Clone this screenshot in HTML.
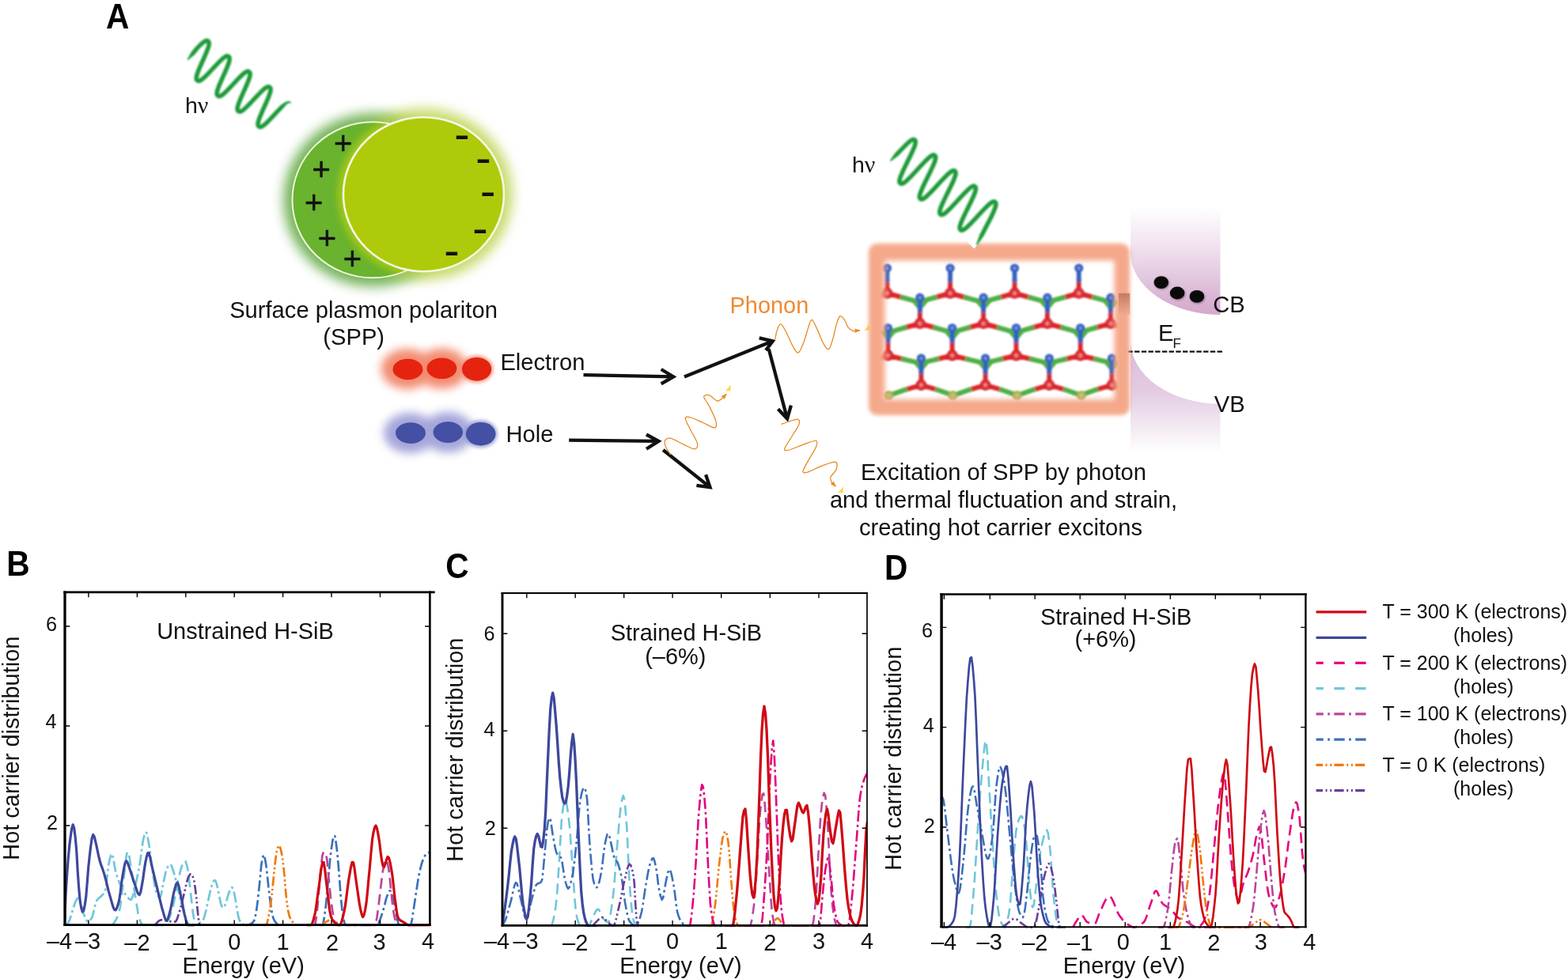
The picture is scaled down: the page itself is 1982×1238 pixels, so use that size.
<!DOCTYPE html>
<html lang="en"><head><meta charset="utf-8"><title>Hot carrier generation in H-SiB</title>
<style>
html,body{margin:0;padding:0;background:#fff;}
body{width:1982px;height:1238px;overflow:hidden;}
svg{display:block;font-family:"Liberation Sans", sans-serif;}
</style></head>
<body>
<svg width="1982" height="1238" viewBox="0 0 1982 1238">
<defs>

<filter id="blurS" x="-20%" y="-20%" width="140%" height="140%"><feGaussianBlur stdDeviation="0.85"/></filter>
<filter id="blurL" x="-10%" y="-10%" width="120%" height="120%"><feGaussianBlur stdDeviation="1.25"/></filter>
<filter id="glow7" x="-30%" y="-30%" width="160%" height="160%"><feGaussianBlur stdDeviation="7.5"/></filter>
<filter id="glow6" x="-40%" y="-60%" width="180%" height="220%"><feGaussianBlur stdDeviation="6"/></filter>
<filter id="glow5" x="-40%" y="-60%" width="180%" height="220%"><feGaussianBlur stdDeviation="5"/></filter>
<filter id="glow2" x="-40%" y="-60%" width="180%" height="220%"><feGaussianBlur stdDeviation="2"/></filter>
<filter id="frameblur" x="-10%" y="-10%" width="120%" height="120%"><feGaussianBlur stdDeviation="2.4"/></filter>
<linearGradient id="gback" x1="0" y1="0" x2="1" y2="0">
  <stop offset="0" stop-color="#68b22e"/><stop offset="0.22" stop-color="#6ab42d"/><stop offset="0.36" stop-color="#8fc226"/><stop offset="1" stop-color="#a6c81c"/>
</linearGradient>
<linearGradient id="gcb" x1="0" y1="0" x2="0" y2="1">
  <stop offset="0" stop-color="#ffffff"/><stop offset="0.3" stop-color="#f3e7f2"/><stop offset="0.6" stop-color="#e5cde2"/><stop offset="0.85" stop-color="#dab4d4"/><stop offset="1" stop-color="#d5a8cc"/>
</linearGradient>
<linearGradient id="gvb" x1="0" y1="0" x2="0" y2="1">
  <stop offset="0" stop-color="#d9b9d8"/><stop offset="0.45" stop-color="#e3cbe2"/><stop offset="1" stop-color="#ffffff"/>
</linearGradient>
<linearGradient id="gnotch" x1="0" y1="0" x2="0" y2="1">
  <stop offset="0" stop-color="#b9705a"/><stop offset="1" stop-color="#f2a88c"/>
</linearGradient>
<radialGradient id="gred" cx="0.5" cy="0.5" r="0.5"><stop offset="0" stop-color="#f6b5b5"/><stop offset="0.45" stop-color="#e03a3e"/><stop offset="1" stop-color="#d41f26"/></radialGradient>
<radialGradient id="gblue" cx="0.5" cy="0.5" r="0.5"><stop offset="0" stop-color="#8fb0ea"/><stop offset="0.5" stop-color="#3f68c8"/><stop offset="1" stop-color="#2d55b8"/></radialGradient>
<radialGradient id="golive" cx="0.5" cy="0.5" r="0.5"><stop offset="0" stop-color="#cfc98a"/><stop offset="1" stop-color="#9aa83c"/></radialGradient>

<clipPath id="clipback"><ellipse cx="471" cy="252.8" rx="100.5" ry="97.5"/></clipPath>
<clipPath id="cliplat"><rect x="1113" y="326" width="300" height="183"/></clipPath>
<mask id="framemask" maskUnits="userSpaceOnUse" x="1080" y="290" width="370" height="255"><rect x="1098" y="308" width="330" height="217" rx="11" ry="11" fill="#fff" filter="url(#fb_out)"/><rect x="1118.5" y="329.5" width="290" height="175.5" rx="2" fill="#000" filter="url(#fb_in)"/></mask>
<filter id="fb_out" x="-10%" y="-10%" width="120%" height="120%"><feGaussianBlur stdDeviation="2.6"/></filter><filter id="fb_in" x="-10%" y="-10%" width="120%" height="120%"><feGaussianBlur stdDeviation="3.4"/></filter>
<clipPath id="clipB"><rect x="82" y="748.9" width="461.4" height="422.80000000000007"/></clipPath>
<clipPath id="clipC"><rect x="635.0" y="750.0" width="461.0" height="422.4000000000001"/></clipPath>
<clipPath id="clipD"><rect x="1190.1" y="751.5" width="460.3000000000002" height="422.70000000000005"/></clipPath>
</defs>
<rect width="1982" height="1238" fill="#fff"/>
<text transform="translate(134.1 35.7) scale(0.905 1)" font-size="44.9" font-weight="bold" fill="#000">A</text>
<path d="M237.7 75.8L239.2 74.6L240.7 73.3L242.3 72.0L243.8 70.7L245.3 69.4L246.7 68.0L247.9 66.5L249.1 65.0L250.4 63.5L251.5 62.0L253.3 60.3L254.9 58.6L256.4 57.3L257.8 56.1L258.9 55.2L259.8 54.6L260.5 54.2L261.0 54.0L261.3 54.0L261.4 54.0L261.5 54.0L261.5 54.0L261.5 54.0L261.5 54.0L261.6 54.1L261.6 54.2L261.7 54.4L261.7 54.8L261.7 55.4L261.6 56.3L261.4 57.4L261.0 58.9L260.4 60.6L259.7 62.5L258.8 64.7L257.8 67.2L256.7 69.8L255.5 72.5L254.2 75.3L252.9 78.1L251.7 80.9L250.5 83.6L249.4 86.2L248.4 88.6L247.6 90.8L246.9 92.8L246.4 94.5L246.0 96.1L245.8 97.5L245.7 98.8L245.8 100.0L246.0 101.1L246.4 102.0L247.0 102.9L247.7 103.6L248.4 104.1L249.3 104.5L250.3 104.8L251.4 104.8L252.5 104.7L253.7 104.3L254.8 103.7L256.0 103.0L257.3 102.0L258.7 100.8L260.3 99.4L262.0 97.8L263.8 96.0L265.7 94.0L267.7 91.8L269.8 89.6L271.9 87.4L273.9 85.2L275.9 83.1L277.8 81.1L279.6 79.3L281.2 77.8L282.7 76.4L283.9 75.3L285.0 74.5L285.9 73.9L286.6 73.6L287.0 73.4L287.3 73.4L287.4 73.4L287.4 73.4L287.4 73.4L287.5 73.4L287.5 73.5L287.5 73.5L287.6 73.6L287.7 73.9L287.7 74.3L287.7 74.9L287.5 75.9L287.3 77.1L286.8 78.6L286.2 80.3L285.5 82.4L284.6 84.6L283.5 87.1L282.4 89.7L281.2 92.5L279.9 95.3L278.6 98.1L277.4 100.9L276.2 103.6L275.1 106.1L274.2 108.5L273.4 110.6L272.7 112.5L272.2 114.3L271.9 115.8L271.7 117.2L271.6 118.5L271.8 119.6L272.0 120.7L272.5 121.6L273.1 122.4L273.7 123.1L274.5 123.6L275.5 124.0L276.5 124.2L277.6 124.2L278.7 124.0L279.8 123.6L281.0 123.0L282.2 122.2L283.5 121.2L285.0 120.0L286.6 118.5L288.3 116.8L290.1 115.0L292.1 113.0L294.1 110.8L296.1 108.6L298.2 106.4L300.3 104.2L302.2 102.1L304.1 100.2L305.9 98.4L307.5 96.9L308.9 95.6L310.1 94.6L311.2 93.8L312.0 93.3L312.6 92.9L313.0 92.8L313.2 92.8L313.3 92.8L313.3 92.8L313.4 92.8L313.4 92.8L313.4 92.9L313.5 92.9L313.5 93.1L313.6 93.3L313.6 93.8L313.6 94.5L313.4 95.5L313.1 96.8L312.7 98.3L312.0 100.1L311.2 102.2L310.3 104.5L309.2 107.0L308.1 109.7L306.8 112.4L305.6 115.3L304.3 118.1L303.1 120.8L301.9 123.5L300.9 126.0L300.0 128.3L299.2 130.4L298.6 132.3L298.1 134.0L297.8 135.5L297.6 136.9L297.6 138.1L297.7 139.2L298.1 140.3L298.5 141.2L299.1 142.0L299.8 142.6L300.7 143.1L301.6 143.5L302.6 143.7L303.7 143.6L304.9 143.4L306.0 142.9L307.2 142.3L308.4 141.4L309.8 140.4L311.2 139.1L312.8 137.6L314.6 135.9L316.4 134.0L318.4 132.0L320.4 129.8L322.5 127.6L324.6 125.4L326.6 123.2L328.6 121.1L330.4 119.2L332.1 117.5L333.7 116.0L335.1 114.8L336.3 113.8L337.3 113.1L338.1 112.6L338.7 112.3L339.0 112.2L339.2 112.2L339.3 112.2L339.3 112.2L339.3 112.2L339.4 112.2L339.4 112.3L339.4 112.4L339.5 112.5L339.6 112.8L339.6 113.3L339.5 114.1L339.3 115.1L339.0 116.5L338.5 118.1L337.8 119.9L337.0 122.1L336.1 124.4L335.0 126.9L333.8 129.6L332.5 132.4L331.3 135.2L330.0 138.0L328.8 140.8L327.7 143.4L326.6 145.9L325.7 148.2L325.0 150.2L324.4 152.1L324.0 153.7L323.7 155.2L323.5 156.5L323.6 157.7L323.7 158.9L324.1 159.9L324.6 160.8L325.2 161.5L325.9 162.1L326.8 162.6L327.7 162.9L328.8 163.1L329.9 163.0L331.0 162.7L332.2 162.2L333.4 161.5L334.6 160.6L336.0 159.5L337.5 158.2L339.1 156.7L340.9 154.9L342.8 153.0L344.7 150.9L346.8 148.8L348.9 146.5L350.9 144.3L352.9 142.2L354.9 140.1L356.7 138.3L358.3 136.5L359.6 134.8L360.8 133.4L361.9 132.3L362.8 131.4L363.6 130.8L364.2 130.4L364.8 130.1L365.2 130.0L365.6 130.0L365.9 130.0L366.3 130.1L366.6 130.3L367.0 130.6L367.8 129.9L367.5 129.5L367.1 129.0L366.6 128.6L365.9 128.4L365.2 128.2L364.4 128.2L363.5 128.3L362.5 128.6L361.3 129.1L360.0 129.8L358.5 130.7L356.9 131.8L355.0 133.1L353.2 134.7L351.3 136.7L349.3 138.7L347.3 140.9L345.2 143.1L343.1 145.3L341.1 147.5L339.2 149.5L337.3 151.4L335.7 153.1L334.1 154.5L332.8 155.7L331.6 156.6L330.7 157.3L329.9 157.7L329.4 158.0L329.0 158.1L328.9 158.1L328.8 158.1L328.8 158.1L328.8 158.0L328.7 158.0L328.7 158.0L328.7 157.9L328.6 157.7L328.5 157.4L328.5 156.8L328.6 156.0L328.8 154.9L329.2 153.5L329.7 151.8L330.4 149.9L331.3 147.8L332.3 145.4L333.4 142.8L334.6 140.1L335.8 137.3L337.1 134.5L338.4 131.7L339.5 128.9L340.7 126.3L341.7 123.9L342.5 121.7L343.2 119.6L343.8 117.8L344.2 116.2L344.5 114.8L344.6 113.5L344.5 112.3L344.3 111.2L343.9 110.2L343.4 109.3L342.8 108.6L342.0 108.0L341.1 107.6L340.2 107.3L339.1 107.2L338.0 107.3L336.9 107.7L335.7 108.2L334.5 108.9L333.2 109.8L331.8 111.0L330.3 112.3L328.6 113.9L326.9 115.7L325.0 117.7L323.0 119.8L320.9 121.9L318.8 124.2L316.8 126.4L314.8 128.5L312.9 130.5L311.0 132.4L309.4 134.0L307.9 135.4L306.6 136.5L305.5 137.4L304.5 138.0L303.8 138.4L303.3 138.6L303.0 138.7L302.9 138.7L302.9 138.7L302.9 138.6L302.8 138.6L302.8 138.6L302.8 138.5L302.7 138.4L302.6 138.2L302.6 137.9L302.6 137.2L302.7 136.4L303.0 135.2L303.4 133.8L303.9 132.1L304.6 130.1L305.5 127.9L306.5 125.5L307.7 122.8L308.9 120.1L310.1 117.3L311.4 114.5L312.7 111.7L313.8 109.0L314.9 106.4L315.9 104.0L316.7 101.8L317.4 99.9L318.0 98.1L318.3 96.5L318.6 95.1L318.6 93.8L318.6 92.6L318.3 91.6L317.9 90.6L317.4 89.8L316.7 89.1L315.9 88.5L315.0 88.1L314.0 87.8L312.9 87.8L311.8 88.0L310.7 88.3L309.5 88.9L308.3 89.7L307.0 90.6L305.6 91.8L304.0 93.2L302.4 94.8L300.5 96.7L298.6 98.7L296.6 100.8L294.6 103.0L292.5 105.2L290.4 107.4L288.4 109.5L286.5 111.5L284.8 113.3L283.1 114.9L281.7 116.2L280.4 117.3L279.3 118.1L278.4 118.7L277.8 119.0L277.3 119.2L277.1 119.3L277.0 119.2L276.9 119.2L276.9 119.2L276.9 119.2L276.8 119.2L276.8 119.1L276.7 119.0L276.7 118.8L276.6 118.3L276.7 117.7L276.8 116.7L277.1 115.5L277.5 114.0L278.1 112.3L278.9 110.3L279.8 108.0L280.8 105.5L282.0 102.9L283.2 100.2L284.4 97.3L285.7 94.5L287.0 91.7L288.1 89.1L289.2 86.5L290.1 84.2L290.9 82.0L291.6 80.1L292.1 78.4L292.4 76.8L292.6 75.4L292.7 74.2L292.6 73.0L292.3 72.0L291.9 71.0L291.3 70.2L290.6 69.5L289.8 69.0L288.9 68.6L287.9 68.4L286.8 68.4L285.6 68.6L284.5 69.0L283.4 69.6L282.1 70.4L280.8 71.4L279.4 72.7L277.8 74.1L276.1 75.8L274.2 77.6L272.3 79.7L270.3 81.8L268.2 84.0L266.1 86.2L264.1 88.4L262.1 90.5L260.2 92.5L258.5 94.2L256.9 95.8L255.5 97.0L254.2 98.1L253.2 98.8L252.3 99.4L251.7 99.7L251.3 99.8L251.1 99.8L251.0 99.8L251.0 99.8L251.0 99.8L250.9 99.8L250.9 99.8L250.8 99.7L250.8 99.6L250.7 99.3L250.7 98.8L250.7 98.1L250.9 97.1L251.2 95.8L251.7 94.3L252.3 92.5L253.1 90.4L254.0 88.1L255.1 85.6L256.3 83.0L257.5 80.2L258.8 77.4L260.0 74.5L261.2 71.8L262.4 69.1L263.4 66.6L264.4 64.3L265.1 62.2L265.8 60.3L266.2 58.6L266.6 57.1L266.7 55.8L266.7 54.5L266.6 53.4L266.3 52.3L265.8 51.4L265.2 50.6L264.5 50.0L263.7 49.5L262.7 49.1L261.7 49.0L260.6 49.0L259.5 49.3L258.3 49.7L257.2 50.4L255.9 51.2L254.6 52.3L253.1 53.5L251.5 55.0L249.8 56.7L247.8 58.7L246.5 60.3L245.3 61.8L244.0 63.3L242.8 64.8L241.7 66.5L240.7 68.2L239.8 69.9L238.8 71.7L237.8 73.4L236.9 75.2Z" fill="#1d9a38" stroke="#1d9a38" stroke-width="0.6" stroke-linejoin="round" filter="url(#blurS)"/>
<text x="234.0" y="142.6" font-size="28.5" fill="#111">h<tspan font-family="&quot;Liberation Serif&quot;, &quot;DejaVu Serif&quot;, serif" font-size="30">ν</tspan></text>
<text x="1077.0" y="217.6" font-size="28.5" fill="#111">h<tspan font-family="&quot;Liberation Serif&quot;, &quot;DejaVu Serif&quot;, serif" font-size="30">ν</tspan></text>
<ellipse cx="471" cy="252.8" rx="112.5" ry="109.5" fill="#4f9f2e" opacity="0.8" filter="url(#glow7)"/>
<ellipse cx="535.5" cy="245.7" rx="112.5" ry="108.5" fill="#b9d24a" opacity="0.8" filter="url(#glow7)"/>
<ellipse cx="471" cy="252.8" rx="101.5" ry="98.5" fill="#69b32e" stroke="#eef5dc" stroke-width="2"/>
<g clip-path="url(#clipback)"><ellipse cx="535.5" cy="245.7" rx="108.5" ry="104.5" fill="#a8cb14" opacity="0.95" filter="url(#glow5)"/></g>
<ellipse cx="535.5" cy="245.7" rx="101.5" ry="97.5" fill="#afca0b" stroke="#f4f8e4" stroke-width="2.6"/>
<text x="433.6" y="195.2" font-size="40.00" text-anchor="middle" font-weight="normal" fill="#111" stroke="#111" stroke-width="0.5">+</text>
<text x="406.3" y="228.1" font-size="40.00" text-anchor="middle" font-weight="normal" fill="#111" stroke="#111" stroke-width="0.5">+</text>
<text x="396.6" y="269.9" font-size="40.00" text-anchor="middle" font-weight="normal" fill="#111" stroke="#111" stroke-width="0.5">+</text>
<text x="413.4" y="315.0" font-size="40.00" text-anchor="middle" font-weight="normal" fill="#111" stroke="#111" stroke-width="0.5">+</text>
<text x="445.5" y="340.6" font-size="40.00" text-anchor="middle" font-weight="normal" fill="#111" stroke="#111" stroke-width="0.5">+</text>
<text x="584.0" y="180.7" font-size="25.00" text-anchor="middle" font-weight="bold" fill="#111" stroke="#111" stroke-width="2.0">–</text>
<text x="611.0" y="210.6" font-size="25.00" text-anchor="middle" font-weight="bold" fill="#111" stroke="#111" stroke-width="2.0">–</text>
<text x="616.8" y="252.8" font-size="25.00" text-anchor="middle" font-weight="bold" fill="#111" stroke="#111" stroke-width="2.0">–</text>
<text x="607.0" y="299.9" font-size="25.00" text-anchor="middle" font-weight="bold" fill="#111" stroke="#111" stroke-width="2.0">–</text>
<text x="571.0" y="327.8" font-size="25.00" text-anchor="middle" font-weight="bold" fill="#111" stroke="#111" stroke-width="2.0">–</text>
<text x="459.5" y="402.0" font-size="29.17" text-anchor="middle" font-weight="normal" fill="#111" >Surface plasmon polariton</text>
<text x="447.2" y="436.4" font-size="29.17" text-anchor="middle" font-weight="normal" fill="#111" >(SPP)</text>
<g filter="url(#glow6)" opacity="0.8"><ellipse cx="514.5" cy="466.5" rx="33" ry="25.5" fill="#f0704f"/><ellipse cx="558.4" cy="466" rx="33" ry="25.5" fill="#f0704f"/></g>
<ellipse cx="602.6" cy="466.8" rx="21" ry="17.5" fill="#f28b72" opacity="0.8" filter="url(#glow2)"/>
<ellipse cx="515.5" cy="467" rx="19" ry="13.2" fill="#e5240f"/>
<ellipse cx="558.4" cy="465.8" rx="19" ry="13.3" fill="#e5240f"/>
<ellipse cx="602.6" cy="466.8" rx="18.6" ry="14.9" fill="#e5240f"/>
<g filter="url(#glow6)" opacity="0.8"><ellipse cx="518" cy="547.6" rx="33" ry="25.5" fill="#8e8fd0"/><ellipse cx="566" cy="546.6" rx="33" ry="25.5" fill="#8e8fd0"/></g>
<ellipse cx="607.7" cy="548.7" rx="21" ry="17.5" fill="#8f92d0" opacity="0.8" filter="url(#glow2)"/>
<ellipse cx="519" cy="547.6" rx="19" ry="13.3" fill="#4350a3"/>
<ellipse cx="566.3" cy="546.6" rx="18.8" ry="13.3" fill="#4350a3"/>
<ellipse cx="607.7" cy="548.7" rx="18.8" ry="14.8" fill="#4350a3"/>
<text x="632.4" y="467.6" font-size="29.17" text-anchor="start" font-weight="normal" fill="#111" >Electron</text>
<text x="639.4" y="559.4" font-size="29.17" text-anchor="start" font-weight="normal" fill="#111" >Hole</text>
<path d="M737.5 474.1L851.2 476.4M835.7 467.0L851.2 476.4L835.7 485.4" fill="none" stroke="#111" stroke-width="4.3" stroke-linejoin="miter" stroke-miterlimit="6" stroke-linecap="butt"/>
<path d="M865.0 476.5L976.8 431.3M959.7 427.3L976.8 431.3L968.0 443.0" fill="none" stroke="#111" stroke-width="4.3" stroke-linejoin="miter" stroke-miterlimit="6" stroke-linecap="butt"/>
<path d="M971.7 441.3L995.1 529.5M983.5 517.3L995.1 529.5L999.9 512.7" fill="none" stroke="#111" stroke-width="4.3" stroke-linejoin="miter" stroke-miterlimit="6" stroke-linecap="butt"/>
<path d="M719.2 556.6L832.5 557.9M817.0 549.5L832.5 557.9L817.0 567.8" fill="none" stroke="#111" stroke-width="4.3" stroke-linejoin="miter" stroke-miterlimit="6" stroke-linecap="butt"/>
<path d="M838.2 569.0L897.5 616.1M880.4 613.8L897.5 616.1L892.1 600.2" fill="none" stroke="#111" stroke-width="4.3" stroke-linejoin="miter" stroke-miterlimit="6" stroke-linecap="butt"/>
<path d="M979.9 428.5C980.2 426.7 981.0 421.0 982.2 417.9C983.4 414.8 984.9 409.3 986.9 409.7C988.8 410.1 991.4 415.6 993.9 420.3C996.4 424.9 999.6 433.5 1002.1 437.8C1004.6 442.1 1006.8 447.0 1009.1 446.0C1011.5 445.0 1014.1 437.0 1016.2 432.0C1018.2 426.9 1019.7 420.2 1021.3 415.6C1023.0 411.0 1024.1 404.3 1026.0 404.3C1027.9 404.3 1030.1 410.6 1032.6 415.6C1035.0 420.6 1038.3 429.9 1040.7 434.3C1043.2 438.7 1045.4 442.6 1047.3 441.8C1049.3 441.0 1050.8 434.8 1052.5 429.6C1054.1 424.5 1055.6 415.9 1057.1 410.9C1058.7 405.9 1060.1 400.6 1061.8 399.6C1063.6 398.7 1065.9 402.6 1067.7 405.0C1069.4 407.5 1070.6 412.2 1072.4 414.4C1074.1 416.6 1075.9 417.8 1078.2 418.4C1080.6 419.0 1085.1 418.0 1086.4 417.9" fill="none" stroke="#e8861a" stroke-width="1.25" stroke-linecap="round"/>
<path d="M1087.9 417.8L1080.1 421.1L1081.4 418.2L1079.8 415.5Z" fill="#e8861a"/>
<path d="M1092.3 417.7L1099.3 409.7L1099.3 417.7Z" fill="#fbd84a" opacity="0.9"/>
<path d="M847.5 574.8C846.6 573.3 842.9 568.4 841.7 565.5C840.5 562.5 839.5 559.1 840.5 557.3C841.5 555.4 843.6 553.4 847.5 554.2C851.4 555.0 858.9 559.7 863.9 561.9C869.0 564.2 875.1 568.0 878.0 567.8C880.9 567.6 882.3 564.7 881.5 560.8C880.7 556.9 875.8 549.6 873.3 544.4C870.8 539.1 866.3 531.9 866.3 529.2C866.3 526.4 869.4 527.0 873.3 528.0C877.2 529.0 884.7 532.9 889.7 535.0C894.7 537.2 900.7 541.3 903.3 540.9C905.8 540.5 906.0 537.2 904.9 532.7C903.8 528.2 899.3 519.1 896.7 513.9C894.2 508.8 889.7 504.1 889.7 501.8C889.7 499.4 894.0 499.0 896.7 499.9C899.5 500.7 903.6 506.1 906.1 506.9C908.6 507.7 910.0 505.9 911.9 504.6C913.9 503.2 916.8 499.7 917.8 498.7" fill="none" stroke="#e8861a" stroke-width="1.25" stroke-linecap="round"/>
<path d="M918.9 497.7L915.2 505.3L914.3 502.2L911.2 501.3Z" fill="#e8861a"/>
<path d="M916.6 494.5L923.6 486.5L923.6 494.5Z" fill="#fbd84a" opacity="0.9"/>
<path d="M988.1 536.2C990.4 535.4 998.6 532.5 1002.1 531.5C1005.6 530.5 1007.9 529.4 1009.1 530.3C1010.4 531.3 1011.2 533.5 1009.6 537.4C1008.0 541.3 1002.8 548.7 999.8 553.7C996.8 558.8 992.0 565.3 991.6 567.8C991.2 570.3 993.3 569.9 997.4 569.0C1001.5 568.0 1010.5 563.9 1016.2 561.9C1021.8 560.0 1028.8 556.7 1031.4 557.3C1033.9 557.8 1032.9 561.4 1031.4 565.5C1029.8 569.6 1024.7 576.8 1022.0 581.9C1019.3 586.9 1015.2 593.4 1015.0 595.9C1014.8 598.4 1016.7 598.2 1020.8 597.1C1024.9 595.9 1033.7 591.0 1039.6 588.9C1045.4 586.7 1053.0 583.4 1056.0 584.2C1058.9 585.0 1058.1 590.4 1057.1 593.6C1056.2 596.7 1051.1 600.2 1050.1 602.9C1049.1 605.7 1050.3 608.0 1051.3 610.0C1052.3 611.9 1055.2 613.9 1056.0 614.6" fill="none" stroke="#e8861a" stroke-width="1.25" stroke-linecap="round"/>
<path d="M1057.0 615.7L1049.4 612.0L1052.4 611.1L1053.4 608.1Z" fill="#e8861a"/>
<path d="M1059.0 623.3L1066.0 615.3L1066.0 623.3Z" fill="#fbd84a" opacity="0.9"/>
<text x="922.6" y="395.7" font-size="28.90" text-anchor="start" font-weight="normal" fill="#f08a33" >Phonon</text>
<path d="M1429 262L1542.5 262L1542.5 398A113.5 78.5 0 0 1 1429 319.5Z" fill="url(#gcb)"/>
<path d="M1429 430.7A113.5 80 0 0 0 1542.5 510.7L1542.5 572L1429 572Z" fill="url(#gvb)"/>
<ellipse cx="1468.6" cy="358.3" rx="9.6" ry="8.2" fill="#5a3a5a" opacity="0.45" filter="url(#blurS)"/>
<ellipse cx="1467.8" cy="357.1" rx="9.3" ry="7.9" fill="#0a0a0a"/>
<ellipse cx="1488.8999999999999" cy="371.7" rx="9.6" ry="8.2" fill="#5a3a5a" opacity="0.45" filter="url(#blurS)"/>
<ellipse cx="1488.1" cy="370.5" rx="9.3" ry="7.9" fill="#0a0a0a"/>
<ellipse cx="1513.7" cy="376.09999999999997" rx="9.6" ry="8.2" fill="#5a3a5a" opacity="0.45" filter="url(#blurS)"/>
<ellipse cx="1512.9" cy="374.9" rx="9.3" ry="7.9" fill="#0a0a0a"/>
<text x="1533.3" y="395.2" font-size="29.17" text-anchor="start" font-weight="normal" fill="#111" >CB</text>
<text x="1534.7" y="521.2" font-size="29.17" text-anchor="start" font-weight="normal" fill="#111" >VB</text>
<text x="1464" y="431" font-size="29.17" fill="#111">E<tspan font-size="17" dy="8.5" dx="-1">F</tspan></text>
<path d="M1425.4 444.7L1546.2 444.7" stroke="#111" stroke-width="2.3" stroke-dasharray="6.4 2.3" fill="none"/>
<g clip-path="url(#cliplat)"><g filter="url(#blurL)" fill="none"><path d="M1121.4 370.8L1102.0 376.2" stroke="#d8262c" stroke-width="6.2" stroke-linecap="round"/><path d="M1102.0 376.2L1081.0 382.1" stroke="#4fae46" stroke-width="6.2" stroke-linecap="round"/><path d="M1121.4 370.8L1140.8 376.2" stroke="#d8262c" stroke-width="6.2" stroke-linecap="round"/><path d="M1140.8 376.2L1161.8 382.1" stroke="#4fae46" stroke-width="6.2" stroke-linecap="round"/><path d="M1201.1 370.8L1181.8 376.2" stroke="#d8262c" stroke-width="6.2" stroke-linecap="round"/><path d="M1181.8 376.2L1160.8 382.1" stroke="#4fae46" stroke-width="6.2" stroke-linecap="round"/><path d="M1201.1 370.8L1220.5 376.2" stroke="#d8262c" stroke-width="6.2" stroke-linecap="round"/><path d="M1220.5 376.2L1241.5 382.1" stroke="#4fae46" stroke-width="6.2" stroke-linecap="round"/><path d="M1282.5 370.8L1263.1 376.2" stroke="#d8262c" stroke-width="6.2" stroke-linecap="round"/><path d="M1263.1 376.2L1242.1 382.1" stroke="#4fae46" stroke-width="6.2" stroke-linecap="round"/><path d="M1282.5 370.8L1301.9 376.2" stroke="#d8262c" stroke-width="6.2" stroke-linecap="round"/><path d="M1301.9 376.2L1322.9 382.1" stroke="#4fae46" stroke-width="6.2" stroke-linecap="round"/><path d="M1363.7 370.8L1344.3 376.2" stroke="#d8262c" stroke-width="6.2" stroke-linecap="round"/><path d="M1344.3 376.2L1323.3 382.1" stroke="#4fae46" stroke-width="6.2" stroke-linecap="round"/><path d="M1363.7 370.8L1383.0 376.2" stroke="#d8262c" stroke-width="6.2" stroke-linecap="round"/><path d="M1383.0 376.2L1404.0 382.1" stroke="#4fae46" stroke-width="6.2" stroke-linecap="round"/><path d="M1162.8 409.1L1143.4 414.5" stroke="#d8262c" stroke-width="6.2" stroke-linecap="round"/><path d="M1143.4 414.5L1122.4 420.4" stroke="#4fae46" stroke-width="6.2" stroke-linecap="round"/><path d="M1162.8 409.1L1182.2 414.5" stroke="#d8262c" stroke-width="6.2" stroke-linecap="round"/><path d="M1182.2 414.5L1203.2 420.4" stroke="#4fae46" stroke-width="6.2" stroke-linecap="round"/><path d="M1243.1 409.1L1223.8 414.5" stroke="#d8262c" stroke-width="6.2" stroke-linecap="round"/><path d="M1223.8 414.5L1202.8 420.4" stroke="#4fae46" stroke-width="6.2" stroke-linecap="round"/><path d="M1243.1 409.1L1262.5 414.5" stroke="#d8262c" stroke-width="6.2" stroke-linecap="round"/><path d="M1262.5 414.5L1283.5 420.4" stroke="#4fae46" stroke-width="6.2" stroke-linecap="round"/><path d="M1323.9 409.1L1304.5 414.5" stroke="#d8262c" stroke-width="6.2" stroke-linecap="round"/><path d="M1304.5 414.5L1283.5 420.4" stroke="#4fae46" stroke-width="6.2" stroke-linecap="round"/><path d="M1323.9 409.1L1343.3 414.5" stroke="#d8262c" stroke-width="6.2" stroke-linecap="round"/><path d="M1343.3 414.5L1364.3 420.4" stroke="#4fae46" stroke-width="6.2" stroke-linecap="round"/><path d="M1404.0 409.1L1384.7 414.5" stroke="#d8262c" stroke-width="6.2" stroke-linecap="round"/><path d="M1384.7 414.5L1363.7 420.4" stroke="#4fae46" stroke-width="6.2" stroke-linecap="round"/><path d="M1404.0 409.1L1423.4 414.5" stroke="#d8262c" stroke-width="6.2" stroke-linecap="round"/><path d="M1423.4 414.5L1444.4 420.4" stroke="#4fae46" stroke-width="6.2" stroke-linecap="round"/><path d="M1122.4 449.5L1103.0 454.2" stroke="#d8262c" stroke-width="6.2" stroke-linecap="round"/><path d="M1103.0 454.2L1082.0 459.2" stroke="#4fae46" stroke-width="6.2" stroke-linecap="round"/><path d="M1122.4 449.5L1141.8 454.2" stroke="#d8262c" stroke-width="6.2" stroke-linecap="round"/><path d="M1141.8 454.2L1162.8 459.2" stroke="#4fae46" stroke-width="6.2" stroke-linecap="round"/><path d="M1203.6 449.5L1184.2 454.2" stroke="#d8262c" stroke-width="6.2" stroke-linecap="round"/><path d="M1184.2 454.2L1163.2 459.2" stroke="#4fae46" stroke-width="6.2" stroke-linecap="round"/><path d="M1203.6 449.5L1222.9 454.2" stroke="#d8262c" stroke-width="6.2" stroke-linecap="round"/><path d="M1222.9 454.2L1243.9 459.2" stroke="#4fae46" stroke-width="6.2" stroke-linecap="round"/><path d="M1284.5 449.5L1265.1 454.2" stroke="#d8262c" stroke-width="6.2" stroke-linecap="round"/><path d="M1265.1 454.2L1244.1 459.2" stroke="#4fae46" stroke-width="6.2" stroke-linecap="round"/><path d="M1284.5 449.5L1303.9 454.2" stroke="#d8262c" stroke-width="6.2" stroke-linecap="round"/><path d="M1303.9 454.2L1324.9 459.2" stroke="#4fae46" stroke-width="6.2" stroke-linecap="round"/><path d="M1365.7 449.5L1346.3 454.2" stroke="#d8262c" stroke-width="6.2" stroke-linecap="round"/><path d="M1346.3 454.2L1325.3 459.2" stroke="#4fae46" stroke-width="6.2" stroke-linecap="round"/><path d="M1365.7 449.5L1385.1 454.2" stroke="#d8262c" stroke-width="6.2" stroke-linecap="round"/><path d="M1385.1 454.2L1406.1 459.2" stroke="#4fae46" stroke-width="6.2" stroke-linecap="round"/><path d="M1164.4 486.9L1144.2 492.9" stroke="#d8262c" stroke-width="6.2" stroke-linecap="round"/><path d="M1144.2 492.9L1124.0 500.0" stroke="#4fae46" stroke-width="6.2" stroke-linecap="round"/><path d="M1164.4 486.9L1184.6 492.9" stroke="#d8262c" stroke-width="6.2" stroke-linecap="round"/><path d="M1184.6 492.9L1204.8 500.0" stroke="#4fae46" stroke-width="6.2" stroke-linecap="round"/><path d="M1245.6 486.9L1225.4 492.9" stroke="#d8262c" stroke-width="6.2" stroke-linecap="round"/><path d="M1225.4 492.9L1205.2 500.0" stroke="#4fae46" stroke-width="6.2" stroke-linecap="round"/><path d="M1245.6 486.9L1265.7 492.9" stroke="#d8262c" stroke-width="6.2" stroke-linecap="round"/><path d="M1265.7 492.9L1285.9 500.0" stroke="#4fae46" stroke-width="6.2" stroke-linecap="round"/><path d="M1326.3 486.9L1306.1 492.9" stroke="#d8262c" stroke-width="6.2" stroke-linecap="round"/><path d="M1306.1 492.9L1285.9 500.0" stroke="#4fae46" stroke-width="6.2" stroke-linecap="round"/><path d="M1326.3 486.9L1346.5 492.9" stroke="#d8262c" stroke-width="6.2" stroke-linecap="round"/><path d="M1346.5 492.9L1366.7 500.0" stroke="#4fae46" stroke-width="6.2" stroke-linecap="round"/><path d="M1405.5 486.9L1385.3 492.9" stroke="#d8262c" stroke-width="6.2" stroke-linecap="round"/><path d="M1385.3 492.9L1365.1 500.0" stroke="#4fae46" stroke-width="6.2" stroke-linecap="round"/><path d="M1405.5 486.9L1425.6 492.9" stroke="#d8262c" stroke-width="6.2" stroke-linecap="round"/><path d="M1425.6 492.9L1445.8 500.0" stroke="#4fae46" stroke-width="6.2" stroke-linecap="round"/><path d="M1112.9 375.2L1129.9 375.2L1121.4 361.1Z" fill="#d8262c" stroke="#d8262c" stroke-width="2" stroke-linejoin="round"/><path d="M1192.7 375.2L1209.6 375.2L1201.1 361.1Z" fill="#d8262c" stroke="#d8262c" stroke-width="2" stroke-linejoin="round"/><path d="M1274.0 375.2L1291.0 375.2L1282.5 361.1Z" fill="#d8262c" stroke="#d8262c" stroke-width="2" stroke-linejoin="round"/><path d="M1355.2 375.2L1372.1 375.2L1363.7 361.1Z" fill="#d8262c" stroke="#d8262c" stroke-width="2" stroke-linejoin="round"/><path d="M1153.1 380.5L1172.5 380.5L1162.8 392.6Z" fill="#4fae46" stroke="#4fae46" stroke-width="2" stroke-linejoin="round"/><path d="M1154.3 413.6L1171.3 413.6L1162.8 399.4Z" fill="#d8262c" stroke="#d8262c" stroke-width="2" stroke-linejoin="round"/><path d="M1233.4 380.5L1252.8 380.5L1243.1 392.6Z" fill="#4fae46" stroke="#4fae46" stroke-width="2" stroke-linejoin="round"/><path d="M1234.7 413.6L1251.6 413.6L1243.1 399.4Z" fill="#d8262c" stroke="#d8262c" stroke-width="2" stroke-linejoin="round"/><path d="M1314.2 380.5L1333.6 380.5L1323.9 392.6Z" fill="#4fae46" stroke="#4fae46" stroke-width="2" stroke-linejoin="round"/><path d="M1315.4 413.6L1332.4 413.6L1323.9 399.4Z" fill="#d8262c" stroke="#d8262c" stroke-width="2" stroke-linejoin="round"/><path d="M1394.4 380.5L1413.7 380.5L1404.0 392.6Z" fill="#4fae46" stroke="#4fae46" stroke-width="2" stroke-linejoin="round"/><path d="M1395.6 413.6L1412.5 413.6L1404.0 399.4Z" fill="#d8262c" stroke="#d8262c" stroke-width="2" stroke-linejoin="round"/><path d="M1112.7 418.8L1132.1 418.8L1122.4 430.9Z" fill="#4fae46" stroke="#4fae46" stroke-width="2" stroke-linejoin="round"/><path d="M1113.9 453.9L1130.9 453.9L1122.4 439.8Z" fill="#d8262c" stroke="#d8262c" stroke-width="2" stroke-linejoin="round"/><path d="M1193.9 418.8L1213.3 418.8L1203.6 430.9Z" fill="#4fae46" stroke="#4fae46" stroke-width="2" stroke-linejoin="round"/><path d="M1195.1 453.9L1212.0 453.9L1203.6 439.8Z" fill="#d8262c" stroke="#d8262c" stroke-width="2" stroke-linejoin="round"/><path d="M1274.8 418.8L1294.2 418.8L1284.5 430.9Z" fill="#4fae46" stroke="#4fae46" stroke-width="2" stroke-linejoin="round"/><path d="M1276.0 453.9L1293.0 453.9L1284.5 439.8Z" fill="#d8262c" stroke="#d8262c" stroke-width="2" stroke-linejoin="round"/><path d="M1356.0 418.8L1375.4 418.8L1365.7 430.9Z" fill="#4fae46" stroke="#4fae46" stroke-width="2" stroke-linejoin="round"/><path d="M1357.2 453.9L1374.2 453.9L1365.7 439.8Z" fill="#d8262c" stroke="#d8262c" stroke-width="2" stroke-linejoin="round"/><path d="M1154.7 457.6L1174.1 457.6L1164.4 469.7Z" fill="#4fae46" stroke="#4fae46" stroke-width="2" stroke-linejoin="round"/><path d="M1155.9 491.3L1172.9 491.3L1164.4 477.2Z" fill="#d8262c" stroke="#d8262c" stroke-width="2" stroke-linejoin="round"/><path d="M1235.9 457.6L1255.2 457.6L1245.6 469.7Z" fill="#4fae46" stroke="#4fae46" stroke-width="2" stroke-linejoin="round"/><path d="M1237.1 491.3L1254.0 491.3L1245.6 477.2Z" fill="#d8262c" stroke="#d8262c" stroke-width="2" stroke-linejoin="round"/><path d="M1316.6 457.6L1336.0 457.6L1326.3 469.7Z" fill="#4fae46" stroke="#4fae46" stroke-width="2" stroke-linejoin="round"/><path d="M1317.8 491.3L1334.8 491.3L1326.3 477.2Z" fill="#d8262c" stroke="#d8262c" stroke-width="2" stroke-linejoin="round"/><path d="M1395.8 457.6L1415.2 457.6L1405.5 469.7Z" fill="#4fae46" stroke="#4fae46" stroke-width="2" stroke-linejoin="round"/><path d="M1397.0 491.3L1413.9 491.3L1405.5 477.2Z" fill="#d8262c" stroke="#d8262c" stroke-width="2" stroke-linejoin="round"/><path d="M1121.4 354.6L1121.4 370.8" stroke="#d8262c" stroke-width="5.8" stroke-linecap="round"/><path d="M1121.4 338.5L1121.4 354.6" stroke="#3560c0" stroke-width="5.8" stroke-linecap="round"/><circle cx="1121.4" cy="370.8" r="7.0" fill="url(#gred)"/><circle cx="1121.4" cy="339.1" r="5.6" fill="url(#gblue)"/><path d="M1201.1 354.6L1201.1 370.8" stroke="#d8262c" stroke-width="5.8" stroke-linecap="round"/><path d="M1201.1 338.5L1201.1 354.6" stroke="#3560c0" stroke-width="5.8" stroke-linecap="round"/><circle cx="1201.1" cy="370.8" r="7.0" fill="url(#gred)"/><circle cx="1201.1" cy="339.1" r="5.6" fill="url(#gblue)"/><path d="M1282.5 354.6L1282.5 370.8" stroke="#d8262c" stroke-width="5.8" stroke-linecap="round"/><path d="M1282.5 338.5L1282.5 354.6" stroke="#3560c0" stroke-width="5.8" stroke-linecap="round"/><circle cx="1282.5" cy="370.8" r="7.0" fill="url(#gred)"/><circle cx="1282.5" cy="339.1" r="5.6" fill="url(#gblue)"/><path d="M1363.7 354.6L1363.7 370.8" stroke="#d8262c" stroke-width="5.8" stroke-linecap="round"/><path d="M1363.7 338.5L1363.7 354.6" stroke="#3560c0" stroke-width="5.8" stroke-linecap="round"/><circle cx="1363.7" cy="370.8" r="7.0" fill="url(#gred)"/><circle cx="1363.7" cy="339.1" r="5.6" fill="url(#gblue)"/><path d="M1162.8 393.0L1162.8 409.1" stroke="#d8262c" stroke-width="5.8" stroke-linecap="round"/><path d="M1162.8 375.8L1162.8 393.0" stroke="#3560c0" stroke-width="5.8" stroke-linecap="round"/><circle cx="1162.8" cy="409.1" r="7.0" fill="url(#gred)"/><circle cx="1162.8" cy="376.4" r="5.6" fill="url(#gblue)"/><path d="M1243.1 393.0L1243.1 409.1" stroke="#d8262c" stroke-width="5.8" stroke-linecap="round"/><path d="M1243.1 375.8L1243.1 393.0" stroke="#3560c0" stroke-width="5.8" stroke-linecap="round"/><circle cx="1243.1" cy="409.1" r="7.0" fill="url(#gred)"/><circle cx="1243.1" cy="376.4" r="5.6" fill="url(#gblue)"/><path d="M1323.9 393.0L1323.9 409.1" stroke="#d8262c" stroke-width="5.8" stroke-linecap="round"/><path d="M1323.9 375.8L1323.9 393.0" stroke="#3560c0" stroke-width="5.8" stroke-linecap="round"/><circle cx="1323.9" cy="409.1" r="7.0" fill="url(#gred)"/><circle cx="1323.9" cy="376.4" r="5.6" fill="url(#gblue)"/><path d="M1404.0 393.0L1404.0 409.1" stroke="#d8262c" stroke-width="5.8" stroke-linecap="round"/><path d="M1404.0 375.8L1404.0 393.0" stroke="#3560c0" stroke-width="5.8" stroke-linecap="round"/><circle cx="1404.0" cy="409.1" r="7.0" fill="url(#gred)"/><circle cx="1404.0" cy="376.4" r="5.6" fill="url(#gblue)"/><path d="M1122.4 431.3L1122.4 449.5" stroke="#d8262c" stroke-width="5.8" stroke-linecap="round"/><path d="M1122.4 414.2L1122.4 431.3" stroke="#3560c0" stroke-width="5.8" stroke-linecap="round"/><circle cx="1122.4" cy="449.5" r="7.0" fill="url(#gred)"/><circle cx="1122.4" cy="414.8" r="5.6" fill="url(#gblue)"/><path d="M1203.6 431.3L1203.6 449.5" stroke="#d8262c" stroke-width="5.8" stroke-linecap="round"/><path d="M1203.6 414.2L1203.6 431.3" stroke="#3560c0" stroke-width="5.8" stroke-linecap="round"/><circle cx="1203.6" cy="449.5" r="7.0" fill="url(#gred)"/><circle cx="1203.6" cy="414.8" r="5.6" fill="url(#gblue)"/><path d="M1284.5 431.3L1284.5 449.5" stroke="#d8262c" stroke-width="5.8" stroke-linecap="round"/><path d="M1284.5 414.2L1284.5 431.3" stroke="#3560c0" stroke-width="5.8" stroke-linecap="round"/><circle cx="1284.5" cy="449.5" r="7.0" fill="url(#gred)"/><circle cx="1284.5" cy="414.8" r="5.6" fill="url(#gblue)"/><path d="M1365.7 431.3L1365.7 449.5" stroke="#d8262c" stroke-width="5.8" stroke-linecap="round"/><path d="M1365.7 414.2L1365.7 431.3" stroke="#3560c0" stroke-width="5.8" stroke-linecap="round"/><circle cx="1365.7" cy="449.5" r="7.0" fill="url(#gred)"/><circle cx="1365.7" cy="414.8" r="5.6" fill="url(#gblue)"/><path d="M1164.4 470.7L1164.4 486.9" stroke="#d8262c" stroke-width="5.8" stroke-linecap="round"/><path d="M1164.4 452.5L1164.4 470.7" stroke="#3560c0" stroke-width="5.8" stroke-linecap="round"/><circle cx="1164.4" cy="486.9" r="7.0" fill="url(#gred)"/><circle cx="1164.4" cy="453.1" r="5.6" fill="url(#gblue)"/><path d="M1245.6 470.7L1245.6 486.9" stroke="#d8262c" stroke-width="5.8" stroke-linecap="round"/><path d="M1245.6 452.5L1245.6 470.7" stroke="#3560c0" stroke-width="5.8" stroke-linecap="round"/><circle cx="1245.6" cy="486.9" r="7.0" fill="url(#gred)"/><circle cx="1245.6" cy="453.1" r="5.6" fill="url(#gblue)"/><path d="M1326.3 470.7L1326.3 486.9" stroke="#d8262c" stroke-width="5.8" stroke-linecap="round"/><path d="M1326.3 452.5L1326.3 470.7" stroke="#3560c0" stroke-width="5.8" stroke-linecap="round"/><circle cx="1326.3" cy="486.9" r="7.0" fill="url(#gred)"/><circle cx="1326.3" cy="453.1" r="5.6" fill="url(#gblue)"/><path d="M1405.5 470.7L1405.5 486.9" stroke="#d8262c" stroke-width="5.8" stroke-linecap="round"/><path d="M1405.5 452.5L1405.5 470.7" stroke="#3560c0" stroke-width="5.8" stroke-linecap="round"/><circle cx="1405.5" cy="486.9" r="7.0" fill="url(#gred)"/><circle cx="1405.5" cy="453.1" r="5.6" fill="url(#gblue)"/><circle cx="1123.4" cy="500.0" r="6.0" fill="url(#golive)"/><circle cx="1204.2" cy="500.0" r="6.0" fill="url(#golive)"/><circle cx="1285.5" cy="500.0" r="6.0" fill="url(#golive)"/><circle cx="1366.7" cy="500.0" r="6.0" fill="url(#golive)"/></g></g>
<rect x="1080" y="290" width="370" height="255" fill="#f5a98b" mask="url(#framemask)"/>
<rect x="1414" y="370.8" width="14.3" height="27" fill="url(#gnotch)" opacity="0.8"/>
<path d="M1221 304L1240.5 304L1231.3 314.5Z" fill="#fff"/>
<path d="M1126.0 203.7L1127.9 202.3L1129.7 201.0L1131.6 199.6L1133.5 198.3L1135.3 196.9L1136.9 195.3L1138.5 193.7L1140.0 192.0L1141.6 190.4L1143.2 188.8L1145.3 186.6L1147.2 184.7L1148.9 183.0L1150.4 181.7L1151.7 180.6L1152.8 179.8L1153.6 179.3L1154.2 179.0L1154.6 178.9L1154.7 178.9L1154.7 178.9L1154.7 178.9L1154.7 178.9L1154.7 178.9L1154.7 178.9L1154.7 179.0L1154.8 179.2L1154.8 179.7L1154.7 180.4L1154.5 181.4L1154.1 182.8L1153.6 184.4L1152.8 186.4L1151.9 188.6L1150.7 191.2L1149.4 193.9L1148.0 196.9L1146.5 199.9L1144.9 203.1L1143.4 206.3L1141.9 209.4L1140.4 212.4L1139.1 215.2L1137.9 217.9L1136.9 220.3L1136.0 222.4L1135.4 224.3L1134.9 226.0L1134.6 227.5L1134.4 228.8L1134.5 230.0L1134.7 231.1L1135.1 232.2L1135.7 233.0L1136.4 233.8L1137.3 234.3L1138.3 234.7L1139.4 234.8L1140.5 234.8L1141.7 234.4L1142.9 233.9L1144.1 233.2L1145.4 232.2L1146.9 231.0L1148.5 229.5L1150.3 227.8L1152.3 225.9L1154.4 223.7L1156.6 221.3L1158.9 218.8L1161.3 216.3L1163.6 213.7L1166.0 211.2L1168.2 208.8L1170.3 206.6L1172.2 204.7L1174.0 203.0L1175.5 201.5L1176.9 200.4L1178.0 199.6L1178.9 199.0L1179.5 198.7L1179.9 198.6L1180.1 198.5L1180.1 198.5L1180.1 198.5L1180.1 198.5L1180.1 198.5L1180.1 198.5L1180.1 198.6L1180.1 198.8L1180.2 199.2L1180.1 199.9L1179.9 200.8L1179.6 202.1L1179.1 203.7L1178.4 205.6L1177.5 207.8L1176.4 210.3L1175.1 213.0L1173.7 215.9L1172.2 219.0L1170.7 222.1L1169.1 225.3L1167.5 228.4L1166.1 231.4L1164.7 234.3L1163.5 237.0L1162.5 239.4L1161.6 241.6L1160.9 243.6L1160.4 245.3L1160.0 246.8L1159.9 248.2L1159.9 249.4L1160.0 250.5L1160.4 251.6L1160.9 252.5L1161.6 253.3L1162.5 253.9L1163.5 254.3L1164.6 254.5L1165.7 254.4L1166.9 254.1L1168.0 253.7L1169.2 253.0L1170.6 252.0L1172.0 250.9L1173.6 249.5L1175.4 247.8L1177.3 245.9L1179.4 243.8L1181.6 241.4L1183.9 239.0L1186.2 236.4L1188.6 233.8L1190.9 231.3L1193.1 228.9L1195.3 226.7L1197.2 224.7L1199.0 222.9L1200.6 221.4L1202.0 220.3L1203.2 219.4L1204.1 218.7L1204.8 218.4L1205.3 218.2L1205.5 218.2L1205.5 218.2L1205.5 218.2L1205.5 218.1L1205.5 218.1L1205.5 218.1L1205.5 218.2L1205.5 218.3L1205.6 218.7L1205.5 219.3L1205.4 220.2L1205.1 221.5L1204.6 223.0L1203.9 224.8L1203.1 227.0L1202.0 229.4L1200.8 232.0L1199.4 234.9L1197.9 238.0L1196.4 241.1L1194.8 244.3L1193.3 247.4L1191.8 250.5L1190.4 253.4L1189.1 256.1L1188.1 258.6L1187.1 260.8L1186.4 262.8L1185.9 264.6L1185.5 266.1L1185.3 267.5L1185.2 268.8L1185.4 270.0L1185.7 271.0L1186.2 272.0L1186.9 272.8L1187.7 273.4L1188.7 273.8L1189.7 274.1L1190.9 274.1L1192.0 273.8L1193.2 273.4L1194.4 272.7L1195.7 271.9L1197.1 270.8L1198.7 269.4L1200.4 267.8L1202.3 265.9L1204.3 263.8L1206.5 261.5L1208.8 259.1L1211.1 256.6L1213.5 254.0L1215.8 251.5L1218.1 249.0L1220.3 246.8L1222.3 244.7L1224.1 242.9L1225.7 241.3L1227.2 240.1L1228.4 239.1L1229.3 238.5L1230.1 238.1L1230.6 237.9L1230.9 237.8L1230.9 237.8L1230.9 237.8L1230.9 237.8L1230.9 237.8L1230.9 237.8L1230.9 237.8L1230.9 237.9L1231.0 238.2L1231.0 238.8L1230.8 239.7L1230.6 240.8L1230.1 242.3L1229.5 244.1L1228.6 246.1L1227.6 248.5L1226.4 251.1L1225.1 254.0L1223.6 257.0L1222.1 260.1L1220.5 263.3L1219.0 266.4L1217.5 269.5L1216.1 272.5L1214.8 275.2L1213.7 277.8L1212.7 280.0L1211.9 282.1L1211.4 283.9L1210.9 285.5L1210.7 286.9L1210.6 288.2L1210.7 289.4L1211.0 290.4L1211.5 291.4L1212.1 292.2L1212.9 292.9L1213.9 293.4L1214.9 293.7L1216.0 293.7L1217.2 293.5L1218.3 293.1L1219.5 292.5L1220.8 291.7L1222.2 290.6L1223.7 289.3L1225.4 287.8L1227.3 286.0L1229.3 283.9L1231.5 281.6L1233.7 279.2L1236.1 276.7L1238.4 274.1L1240.8 271.6L1243.1 269.1L1245.2 266.8L1247.3 264.7L1249.1 262.9L1250.8 261.3L1252.3 260.0L1253.5 258.9L1254.6 258.2L1255.4 257.8L1255.9 257.5L1256.2 257.4L1256.3 257.4L1256.3 257.4L1256.3 257.4L1256.3 257.4L1256.3 257.4L1256.3 257.4L1256.3 257.5L1256.4 257.8L1256.4 258.3L1256.3 259.1L1256.0 260.2L1255.6 261.6L1255.0 263.3L1254.2 265.3L1253.2 267.6L1252.1 270.2L1250.8 273.0L1250.0 274.4L1249.3 275.9L1248.5 277.4L1247.7 278.9L1247.0 280.3L1246.2 281.8L1245.4 283.3L1244.7 284.8L1243.9 286.3L1243.1 287.7L1242.4 289.2L1241.6 290.7L1240.8 292.2L1240.1 293.7L1239.3 295.1L1238.6 296.7L1238.0 298.2L1237.5 299.8L1236.9 301.4L1236.4 303.0L1235.8 304.6L1235.2 306.2L1234.7 307.8L1234.1 309.3L1235.1 309.9L1236.1 308.5L1237.0 307.1L1238.0 305.7L1239.0 304.4L1240.0 303.0L1240.9 301.6L1241.9 300.2L1242.9 298.9L1243.7 297.4L1244.5 296.0L1245.3 294.5L1246.0 293.0L1246.8 291.5L1247.6 290.0L1248.3 288.6L1249.1 287.1L1249.9 285.6L1250.6 284.1L1251.4 282.6L1252.2 281.2L1252.9 279.7L1253.7 278.2L1254.5 276.7L1255.3 275.2L1256.6 272.3L1257.8 269.7L1258.8 267.2L1259.7 265.1L1260.4 263.1L1260.9 261.5L1261.2 260.0L1261.4 258.6L1261.3 257.4L1261.1 256.2L1260.8 255.2L1260.2 254.3L1259.5 253.6L1258.6 253.0L1257.6 252.6L1256.5 252.4L1255.4 252.5L1254.2 252.8L1253.1 253.3L1251.8 254.0L1250.5 255.0L1249.1 256.1L1247.4 257.6L1245.7 259.3L1243.7 261.2L1241.6 263.4L1239.4 265.7L1237.1 268.2L1234.8 270.7L1232.4 273.3L1230.1 275.8L1227.8 278.2L1225.7 280.4L1223.8 282.4L1222.0 284.1L1220.4 285.6L1219.1 286.8L1217.9 287.6L1217.0 288.2L1216.3 288.6L1215.9 288.7L1215.7 288.7L1215.7 288.7L1215.7 288.7L1215.7 288.8L1215.8 288.8L1215.7 288.8L1215.7 288.7L1215.7 288.5L1215.6 288.1L1215.7 287.5L1215.8 286.5L1216.2 285.3L1216.7 283.7L1217.4 281.9L1218.3 279.7L1219.3 277.3L1220.6 274.6L1222.0 271.7L1223.4 268.6L1225.0 265.5L1226.6 262.3L1228.1 259.2L1229.6 256.1L1231.0 253.2L1232.2 250.5L1233.3 248.1L1234.1 245.8L1234.9 243.9L1235.4 242.1L1235.7 240.6L1235.9 239.2L1236.0 238.0L1235.8 236.8L1235.5 235.8L1234.9 234.9L1234.2 234.1L1233.4 233.5L1232.4 233.0L1231.4 232.8L1230.2 232.8L1229.1 233.1L1227.9 233.6L1226.7 234.2L1225.4 235.1L1224.0 236.3L1222.4 237.6L1220.6 239.3L1218.7 241.2L1216.7 243.3L1214.5 245.6L1212.2 248.1L1209.8 250.6L1207.5 253.2L1205.1 255.7L1202.9 258.1L1200.7 260.4L1198.7 262.4L1196.9 264.2L1195.3 265.7L1193.9 266.9L1192.7 267.8L1191.8 268.5L1191.1 268.9L1190.6 269.1L1190.3 269.1L1190.3 269.1L1190.3 269.1L1190.3 269.1L1190.4 269.1L1190.4 269.1L1190.3 269.1L1190.3 269.0L1190.2 268.6L1190.3 268.0L1190.4 267.1L1190.7 265.9L1191.1 264.5L1191.8 262.6L1192.7 260.5L1193.7 258.2L1194.9 255.5L1196.3 252.6L1197.7 249.6L1199.3 246.5L1200.9 243.3L1202.4 240.2L1203.9 237.1L1205.3 234.2L1206.6 231.4L1207.7 228.9L1208.6 226.6L1209.3 224.6L1209.9 222.8L1210.3 221.3L1210.5 219.9L1210.6 218.6L1210.5 217.4L1210.1 216.4L1209.6 215.4L1209.0 214.6L1208.2 213.9L1207.3 213.5L1206.2 213.2L1205.1 213.2L1203.9 213.4L1202.7 213.8L1201.5 214.5L1200.3 215.3L1198.9 216.4L1197.3 217.7L1195.6 219.3L1193.7 221.1L1191.7 223.2L1189.5 225.5L1187.2 227.9L1184.9 230.5L1182.5 233.0L1180.2 235.6L1177.9 238.0L1175.8 240.3L1173.7 242.4L1171.9 244.2L1170.2 245.8L1168.8 247.1L1167.6 248.0L1166.6 248.7L1165.8 249.2L1165.3 249.4L1165.0 249.5L1164.9 249.5L1164.9 249.5L1164.9 249.5L1164.9 249.5L1165.0 249.5L1164.9 249.5L1164.9 249.4L1164.8 249.1L1164.8 248.5L1165.0 247.7L1165.2 246.6L1165.6 245.1L1166.3 243.4L1167.1 241.4L1168.1 239.0L1169.3 236.4L1170.6 233.6L1172.0 230.6L1173.6 227.5L1175.1 224.3L1176.7 221.2L1178.2 218.1L1179.6 215.1L1180.9 212.3L1182.0 209.8L1183.0 207.4L1183.8 205.4L1184.4 203.6L1184.8 201.9L1185.1 200.5L1185.2 199.2L1185.1 198.0L1184.8 196.9L1184.4 195.9L1183.7 195.1L1183.0 194.4L1182.0 193.9L1181.0 193.6L1179.9 193.5L1178.7 193.7L1177.6 194.1L1176.4 194.7L1175.1 195.5L1173.8 196.5L1172.2 197.8L1170.5 199.3L1168.7 201.1L1166.7 203.2L1164.6 205.4L1162.3 207.8L1160.0 210.3L1157.6 212.9L1155.3 215.4L1153.0 217.9L1150.8 220.2L1148.7 222.4L1146.8 224.2L1145.1 225.9L1143.7 227.2L1142.4 228.2L1141.3 229.0L1140.5 229.5L1139.9 229.7L1139.6 229.8L1139.5 229.8L1139.5 229.8L1139.5 229.9L1139.5 229.9L1139.6 229.9L1139.5 229.9L1139.5 229.8L1139.5 229.5L1139.4 229.0L1139.5 228.3L1139.7 227.2L1140.1 225.8L1140.7 224.1L1141.5 222.2L1142.5 219.9L1143.6 217.3L1144.9 214.6L1146.3 211.6L1147.9 208.5L1149.4 205.3L1151.0 202.2L1152.5 199.0L1154.0 196.1L1155.3 193.2L1156.4 190.6L1157.4 188.3L1158.3 186.1L1158.9 184.3L1159.4 182.6L1159.6 181.2L1159.8 179.8L1159.7 178.6L1159.5 177.5L1159.1 176.5L1158.5 175.6L1157.7 174.9L1156.8 174.4L1155.8 174.0L1154.7 173.9L1153.6 174.0L1152.4 174.4L1151.2 174.9L1150.0 175.7L1148.6 176.7L1147.1 177.9L1145.5 179.4L1143.7 181.1L1141.7 183.1L1139.6 185.3L1138.0 186.9L1136.5 188.5L1134.9 190.2L1133.3 191.8L1131.7 193.4L1130.4 195.3L1129.1 197.2L1127.8 199.1L1126.5 201.0L1125.2 202.9Z" fill="#1d9a38" stroke="#1d9a38" stroke-width="0.6" stroke-linejoin="round" filter="url(#blurS)"/>
<text x="1268.5" y="607.1" font-size="29.17" text-anchor="middle" font-weight="normal" fill="#111" >Excitation of SPP by photon</text>
<text x="1268.5" y="641.9" font-size="29.17" text-anchor="middle" font-weight="normal" fill="#111" >and thermal fluctuation and strain,</text>
<text x="1265.0" y="676.5" font-size="29.17" text-anchor="middle" font-weight="normal" fill="#111" >creating hot carrier excitons</text>
<g clip-path="url(#clipB)" fill="none" stroke-linejoin="round"><path d="M83.3 1170.0L84.8 1168.8L86.3 1166.7L87.8 1163.8L89.3 1159.3L90.8 1154.2L92.3 1149.6L93.8 1144.8L95.3 1140.5L96.8 1137.6L98.3 1135.7L99.8 1136.1L101.3 1140.3L102.8 1144.9L104.3 1150.6L105.8 1155.8L107.3 1159.6L108.8 1163.0L110.3 1165.2L111.8 1165.5L113.3 1164.5L114.8 1162.6L116.3 1160.3L117.8 1155.4L119.3 1148.7L120.8 1142.3L122.3 1138.7L123.8 1136.9L125.3 1135.6L126.8 1134.3L128.3 1132.8L129.8 1131.5L131.3 1129.7L132.8 1127.2L134.3 1119.7L135.8 1105.9L137.3 1093.3L138.8 1086.4L140.3 1081.2L141.8 1079.9L143.3 1085.7L144.8 1095.0L146.3 1102.7L147.8 1107.6L149.3 1112.0L150.8 1115.9L152.3 1119.4L153.8 1122.6L155.3 1125.6L156.8 1128.4L158.3 1130.9L159.8 1133.0L161.3 1134.7L162.8 1136.2L164.3 1137.4L165.8 1137.8L167.3 1135.0L168.8 1129.3L170.3 1122.9L171.8 1116.8L173.3 1110.0L174.8 1102.6L176.3 1094.5L177.8 1084.7L179.3 1073.1L180.8 1063.1L182.3 1056.8L183.8 1052.4L185.3 1053.1L186.8 1059.5L188.3 1067.6L189.8 1078.1L191.3 1090.4L192.8 1101.2L194.3 1111.8L195.8 1121.3L197.3 1127.3L198.8 1131.1L200.3 1134.0L201.8 1135.4L203.3 1132.8L204.8 1125.5L206.3 1117.3L207.8 1110.5L209.3 1103.6L210.8 1098.4L212.3 1095.8L213.8 1093.8L215.3 1093.0L216.8 1094.7L218.3 1098.9L219.8 1103.9L221.3 1109.0L222.8 1115.2L224.3 1121.6L225.8 1128.0L227.3 1134.6L228.8 1140.9L230.3 1146.6L231.8 1152.0L233.3 1157.0L234.8 1161.0L236.3 1164.9L237.8 1168.2L239.3 1170.0L240.8 1170.0L242.3 1169.8L243.8 1169.6L245.3 1169.3L246.8 1169.0L248.3 1168.5L249.8 1168.0L251.3 1167.4L252.8 1166.8L254.3 1166.1L255.8 1165.1L257.3 1162.2L258.8 1157.7L260.3 1151.8L261.8 1145.2L263.3 1138.2L264.8 1131.2L266.3 1124.8L267.8 1119.4L269.3 1115.3L270.8 1113.2L272.3 1113.6L273.8 1117.6L275.3 1124.0L276.8 1131.5L278.3 1138.9L279.8 1144.8L281.3 1147.9L282.8 1147.5L284.3 1144.8L285.8 1140.7L287.3 1135.8L288.8 1130.7L290.3 1126.3L291.8 1123.2L293.3 1122.1L294.8 1124.5L296.3 1130.6L297.8 1138.9L299.3 1148.0L300.8 1156.5L302.3 1162.9L303.8 1165.9L305.3 1167.3L306.8 1168.5L308.3 1169.4L309.8 1169.9L310.8 1170.0" stroke="#70c6da" stroke-width="2.7" stroke-dasharray="14 4 3 4"/><path d="M141.4 1170.0L142.9 1168.6L144.4 1166.6L145.9 1164.3L147.4 1161.5L148.9 1158.0L150.4 1153.5L151.9 1147.2L153.4 1136.1L154.9 1123.1L156.4 1111.1L157.9 1097.4L159.4 1084.4L160.9 1076.6L162.4 1077.9L163.9 1085.7L165.4 1095.3L166.9 1105.0L168.4 1116.0L169.9 1126.3L171.4 1136.1L172.9 1145.1L174.4 1153.9L175.9 1161.3L177.4 1165.1L178.9 1167.9L180.4 1169.6L181.9 1170.0L183.4 1170.0L184.9 1170.0L186.4 1170.0L187.9 1170.0L189.4 1170.0L190.9 1170.0L192.4 1170.0L193.9 1170.0L195.4 1170.0L196.9 1170.0L198.4 1170.0L199.9 1170.0L201.4 1170.0L202.9 1170.0L204.4 1170.0L205.9 1170.0L207.4 1169.9L208.9 1168.9L210.4 1167.1L211.9 1164.8L213.4 1162.3L214.9 1158.7L216.4 1154.1L217.9 1148.9L219.4 1143.2L220.9 1136.0L222.4 1128.0L223.9 1119.9L225.4 1112.9L226.9 1106.2L228.4 1100.0L229.9 1095.2L231.4 1091.2L232.9 1088.4L234.4 1089.0L235.9 1093.2L237.4 1099.3L238.9 1110.6L240.4 1124.3L241.9 1136.9L243.4 1150.2L244.9 1160.5L246.4 1165.6L247.9 1168.9L249.2 1170.0" stroke="#70c6da" stroke-width="2.7" stroke-dasharray="13.5 7"/><path d="M195.9 1170.0L197.4 1168.0L198.9 1166.3L200.4 1164.9L201.9 1163.9L203.4 1163.3L204.9 1163.3L206.4 1163.5L207.9 1163.9L209.4 1164.2L210.9 1164.5L212.4 1164.7L213.9 1165.0L215.4 1165.2L216.9 1165.4L218.4 1165.5L219.9 1165.6L221.4 1165.7L222.9 1164.2L224.4 1160.6L225.9 1155.9L227.4 1151.1L228.9 1145.9L230.4 1139.8L231.9 1133.3L233.4 1127.1L234.9 1120.8L236.4 1114.4L237.9 1109.5L239.4 1106.9L240.9 1105.2L242.4 1105.9L243.9 1109.2L245.4 1114.1L246.9 1124.1L248.4 1136.7L249.9 1153.0L251.4 1165.7L252.2 1170.0" stroke="#6a3d9a" stroke-width="2.7" stroke-dasharray="12 3.4 2.4 3.4 2.4 3.4"/><path d="M310.8 1170.0L312.3 1169.9L313.8 1169.6L315.3 1169.1L316.8 1168.4L318.3 1167.4L319.8 1166.3L321.3 1164.1L322.8 1158.1L324.3 1150.1L325.8 1138.9L327.3 1125.1L328.8 1109.8L330.3 1094.0L331.8 1085.0L333.3 1080.9L334.8 1085.2L336.3 1093.4L337.8 1106.3L339.3 1121.2L340.8 1134.0L342.3 1145.1L343.8 1154.3L345.3 1160.8L346.8 1164.0L348.3 1166.2L349.8 1168.1L351.3 1169.5L352.0 1170.0" stroke="#3d70ba" stroke-width="2.7" stroke-dasharray="14 4 3 4"/><path d="M403.9 1170.0L405.4 1170.0L406.9 1170.0L408.4 1168.4L409.9 1160.1L411.4 1149.4L412.9 1135.4L414.4 1119.0L415.9 1102.3L417.4 1085.0L418.9 1072.9L420.4 1063.4L421.9 1057.0L423.4 1057.4L424.9 1066.6L426.4 1079.2L427.9 1096.1L429.4 1115.6L430.9 1135.7L432.4 1150.2L433.9 1159.4L435.4 1166.9L436.9 1170.0L438.4 1170.0L439.9 1170.0L441.4 1170.0L442.9 1170.0L444.4 1170.0L445.9 1170.0L447.4 1170.0L448.9 1170.0L450.4 1170.0L451.9 1170.0L453.4 1170.0L454.9 1170.0L456.4 1170.0L457.9 1170.0L459.4 1170.0L460.9 1170.0L462.4 1170.0L463.9 1170.0L465.4 1170.0L466.9 1170.0L468.4 1170.0L469.9 1170.0L471.4 1170.0L472.9 1170.0L474.4 1170.0L475.9 1170.0L477.4 1169.4L478.9 1166.5L480.4 1162.8L481.9 1158.8L483.4 1154.2L484.9 1149.2L486.4 1143.6L487.9 1137.4L489.4 1132.7L490.9 1129.0L492.4 1126.5L493.9 1127.1L495.4 1130.7L496.9 1135.3L498.4 1142.0L499.9 1149.7L501.4 1157.7L502.9 1166.0L504.4 1170.0L505.9 1170.0L507.4 1170.0L508.9 1170.0L510.4 1170.0L511.9 1170.0L513.4 1170.0L514.9 1170.0L516.4 1170.0L517.9 1170.0L519.4 1169.5L520.9 1162.5L522.4 1152.3L523.9 1142.8L525.4 1132.4L526.9 1122.7L528.4 1113.2L529.9 1104.9L531.4 1098.2L532.9 1092.5L534.4 1088.0L535.9 1084.3L537.4 1081.7L538.9 1079.9L540.4 1078.6L541.9 1078.1L543.4 1077.8L543.4 1077.8" stroke="#3d70ba" stroke-width="2.7" stroke-dasharray="14 4 3 4"/><path d="M332.6 1170.0L334.1 1170.0L335.6 1170.0L337.1 1168.9L338.6 1163.3L340.1 1156.1L341.6 1147.2L343.1 1136.1L344.6 1122.6L346.1 1106.5L347.6 1092.7L349.1 1080.6L350.6 1073.2L352.1 1069.1L353.6 1070.1L355.1 1075.0L356.6 1082.3L358.1 1093.3L359.6 1108.2L361.1 1127.2L362.6 1140.8L364.1 1151.6L365.6 1158.0L367.1 1161.6L368.6 1164.1L370.1 1166.2L371.6 1168.0L373.1 1169.5L373.8 1170.0" stroke="#f07a05" stroke-width="2.7" stroke-dasharray="12 3.4 2.4 3.4 2.4 3.4"/><path d="M406.3 1170.0L407.8 1168.7L409.3 1167.6L410.8 1166.6L412.3 1165.7L413.8 1164.9L415.3 1164.1L416.8 1163.5L418.3 1163.2L419.8 1163.4L421.3 1164.0L422.8 1164.7L424.3 1165.6L425.8 1166.6L427.3 1167.9L428.8 1169.4L429.3 1170.0" stroke="#f07a05" stroke-width="2.7" stroke-dasharray="12 3.4 2.4 3.4 2.4 3.4"/><path d="M395.4 1170.0L396.9 1170.0L398.4 1169.0L399.9 1159.3L401.4 1145.6L402.9 1128.8L404.4 1109.7L405.9 1095.2L407.4 1082.2L408.9 1077.2L410.4 1078.1L411.9 1080.1L413.4 1087.1L414.9 1103.7L416.4 1119.2L417.9 1134.6L419.4 1146.3L420.9 1155.6L422.4 1163.3L423.9 1169.3L425.4 1170.0L426.9 1170.0L428.4 1170.0L429.9 1170.0L431.4 1170.0L432.9 1170.0L434.4 1170.0L435.9 1170.0L437.4 1170.0L438.9 1170.0L440.4 1170.0L441.9 1170.0L443.4 1170.0L444.9 1170.0L446.4 1170.0L447.9 1170.0L449.4 1170.0L450.9 1170.0L452.4 1170.0L453.9 1170.0L455.4 1170.0L456.9 1170.0L458.4 1170.0L459.9 1170.0L461.4 1170.0L462.9 1170.0L464.4 1170.0L465.9 1170.0L467.4 1170.0L468.9 1170.0L470.4 1170.0L471.9 1170.0L473.4 1170.0L474.9 1168.6L476.4 1160.5L477.9 1150.2L479.4 1138.2L480.9 1124.8L482.4 1112.9L483.9 1101.5L485.4 1093.9L486.9 1088.6L488.4 1087.1L489.9 1091.9L491.4 1099.6L492.9 1112.7L494.4 1127.0L495.9 1141.2L497.4 1152.7L498.9 1160.8L500.4 1165.5L501.9 1168.9L503.2 1170.0" stroke="#bb459c" stroke-width="2.7" stroke-dasharray="13.5 7"/><path d="M81.7 1163.2L83.2 1128.3L84.7 1105.9L86.2 1086.2L87.7 1069.8L89.2 1058.0L90.7 1047.7L92.2 1042.8L93.7 1047.1L95.2 1058.9L96.7 1075.4L98.2 1102.2L99.7 1123.1L101.2 1139.3L102.7 1148.1L104.2 1153.1L105.7 1151.8L107.2 1144.5L108.7 1134.3L110.2 1116.3L111.7 1096.9L113.2 1083.2L114.7 1070.2L116.2 1059.9L117.7 1055.5L119.2 1057.9L120.7 1064.1L122.2 1070.6L123.7 1077.8L125.2 1085.0L126.7 1090.5L128.2 1094.9L129.7 1099.0L131.2 1103.4L132.7 1108.6L134.2 1114.4L135.7 1120.6L137.2 1126.6L138.7 1132.0L140.2 1137.1L141.7 1142.6L143.2 1147.4L144.7 1150.5L146.2 1150.9L147.7 1148.3L149.2 1143.8L150.7 1138.2L152.2 1128.2L153.7 1115.7L155.2 1106.2L156.7 1097.9L158.2 1091.2L159.7 1088.8L161.2 1090.8L162.7 1095.0L164.2 1099.6L165.7 1103.9L167.2 1108.6L168.7 1113.2L170.2 1117.5L171.7 1122.3L173.2 1126.8L174.7 1130.3L176.2 1131.7L177.7 1128.4L179.2 1120.4L180.7 1111.7L182.2 1100.8L183.7 1091.1L185.2 1084.0L186.7 1078.7L188.2 1078.7L189.7 1084.0L191.2 1091.6L192.7 1098.3L194.2 1104.5L195.7 1110.8L197.2 1117.1L198.7 1123.4L200.2 1129.6L201.7 1135.9L203.2 1142.2L204.7 1148.0L206.2 1153.1L207.7 1158.6L209.2 1163.0L210.7 1164.4L212.2 1161.9L213.7 1157.1L215.2 1151.5L216.7 1144.7L218.2 1136.3L219.7 1128.6L221.2 1122.9L222.7 1117.9L224.2 1116.0L225.7 1119.5L227.2 1126.2L228.7 1133.3L230.2 1140.7L231.7 1148.9L233.2 1156.1L234.7 1162.1L236.2 1167.6L237.7 1170.0L239.2 1170.0L240.7 1170.0L242.2 1170.0L243.7 1170.0L245.2 1170.0L245.6 1170.0" stroke="#3e489c" stroke-width="3.2"/><path d="M388.1 1170.0L389.6 1170.0L391.1 1170.0L392.6 1170.0L394.1 1169.0L395.6 1165.2L397.1 1159.8L398.6 1153.3L400.1 1143.2L401.6 1131.7L403.1 1121.3L404.6 1109.7L406.1 1098.3L407.6 1090.7L409.1 1090.4L410.6 1099.0L412.1 1112.3L413.6 1124.9L415.1 1137.9L416.6 1150.8L418.1 1158.2L419.6 1162.0L421.1 1164.6L422.6 1166.2L424.1 1167.5L425.6 1168.7L427.1 1169.5L428.6 1169.9L430.1 1169.5L431.6 1166.2L433.1 1160.8L434.6 1154.4L436.1 1147.2L437.6 1136.8L439.1 1124.7L440.6 1113.5L442.1 1104.8L443.6 1096.3L445.1 1090.3L446.6 1090.5L448.1 1098.3L449.6 1110.0L451.1 1120.9L452.6 1131.0L454.1 1141.3L455.6 1149.7L457.1 1155.9L458.6 1159.6L460.1 1157.0L461.6 1150.6L463.1 1141.3L464.6 1126.6L466.1 1110.2L467.6 1094.6L469.1 1077.1L470.6 1061.5L472.1 1052.3L473.6 1046.2L475.1 1044.0L476.6 1047.9L478.1 1055.6L479.6 1064.6L481.1 1077.5L482.6 1088.2L484.1 1095.0L485.6 1096.2L487.1 1092.2L488.6 1086.9L490.1 1083.5L491.6 1084.9L493.1 1090.7L494.6 1098.8L496.1 1108.1L497.6 1121.8L499.1 1135.7L500.6 1146.9L502.1 1157.0L503.6 1161.4L505.1 1163.1L506.6 1164.2L508.1 1165.0L509.6 1165.9L511.1 1166.9L512.6 1167.9L514.1 1168.9L515.6 1169.6L517.1 1170.0L518.6 1170.0L520.1 1170.0L521.6 1170.0L523.1 1170.0L524.6 1170.0L526.1 1170.0L527.6 1170.0L529.1 1170.0L530.6 1170.0L532.1 1170.0L533.6 1170.0L535.1 1170.0L536.6 1170.0L538.1 1170.0L539.6 1170.0L541.1 1170.0L542.6 1170.0L543.4 1170.0" stroke="#cf0a14" stroke-width="3.2"/></g>
<path d="M111.9 1169.7L111.9 1163.4M111.9 748.9L111.9 755.1999999999999M173.4 1169.7L173.4 1163.4M173.4 748.9L173.4 755.1999999999999M234.8 1169.7L234.8 1163.4M234.8 748.9L234.8 755.1999999999999M296.2 1169.7L296.2 1163.4M296.2 748.9L296.2 755.1999999999999M357.6 1169.7L357.6 1163.4M357.6 748.9L357.6 755.1999999999999M419.0 1169.7L419.0 1163.4M419.0 748.9L419.0 755.1999999999999M480.5 1169.7L480.5 1163.4M480.5 748.9L480.5 755.1999999999999M82 792.0L88.3 792.0M543.4 792.0L537.1 792.0M82 918.0L88.3 918.0M543.4 918.0L537.1 918.0M82 1044.0L88.3 1044.0M543.4 1044.0L537.1 1044.0" stroke="#000" stroke-width="1.4" fill="none"/>
<path d="M80.35 748.9L549.6999999999999 748.9" stroke="#000" stroke-width="2.9"/><path d="M80.35 1169.7L544.6999999999999 1169.7" stroke="#000" stroke-width="2.7"/><path d="M82 747.4499999999999L82 1171.05" stroke="#000" stroke-width="3.3"/><path d="M543.4 747.4499999999999L543.4 1171.05" stroke="#000" stroke-width="2.6"/>
<text x="75.0" y="1200.0" font-size="28.95" text-anchor="middle" font-weight="normal" fill="#111" >–4</text>
<text x="111.0" y="1200.0" font-size="28.95" text-anchor="middle" font-weight="normal" fill="#111" >–3</text>
<text x="173.4" y="1201.8" font-size="28.95" text-anchor="middle" font-weight="normal" fill="#111" >–2</text>
<text x="234.8" y="1201.8" font-size="28.95" text-anchor="middle" font-weight="normal" fill="#111" >–1</text>
<text x="296.2" y="1200.5" font-size="28.95" text-anchor="middle" font-weight="normal" fill="#111" >0</text>
<text x="357.6" y="1200.5" font-size="28.95" text-anchor="middle" font-weight="normal" fill="#111" >1</text>
<text x="420.0" y="1202.4" font-size="28.95" text-anchor="middle" font-weight="normal" fill="#111" >2</text>
<text x="479.6" y="1201.0" font-size="28.95" text-anchor="middle" font-weight="normal" fill="#111" >3</text>
<text x="541.0" y="1200.0" font-size="28.95" text-anchor="middle" font-weight="normal" fill="#111" >4</text>
<text x="72.0" y="798.0" font-size="25.30" text-anchor="end" font-weight="normal" fill="#111" >6</text>
<text x="71.6" y="920.9" font-size="25.30" text-anchor="end" font-weight="normal" fill="#111" >4</text>
<text x="73.0" y="1048.9" font-size="25.30" text-anchor="end" font-weight="normal" fill="#111" >2</text>
<text transform="translate(8.2 728.0) scale(0.905 1)" font-size="44.9" font-weight="bold" fill="#000">B</text>
<text x="310.0" y="808.0" font-size="28.95" text-anchor="middle" font-weight="normal" fill="#111" >Unstrained H-SiB</text>
<text transform="translate(23.9 946.2) rotate(-90)" font-size="28.95" text-anchor="middle" fill="#111">Hot carrier distribution</text>
<text x="307.6" y="1231.0" font-size="28.95" text-anchor="middle" font-weight="normal" fill="#111" >Energy (eV)</text>
<g clip-path="url(#clipC)" fill="none" stroke-linejoin="round"><path d="M696.3 1170.7L697.8 1168.9L699.3 1163.8L700.8 1156.4L702.3 1147.4L703.8 1134.6L705.3 1113.3L706.8 1090.3L708.3 1063.5L709.8 1038.3L711.3 1024.8L712.8 1015.5L714.3 1011.3L715.8 1014.3L717.3 1023.0L718.8 1034.6L720.3 1048.3L721.8 1068.9L723.3 1090.8L724.8 1112.1L726.3 1134.4L727.8 1151.9L729.3 1160.2L730.8 1165.6L732.3 1169.3L733.8 1170.7L735.3 1170.7L736.8 1170.7L738.3 1170.7L739.8 1170.7L741.3 1170.7L742.8 1170.7L744.3 1170.7L745.8 1168.7L747.3 1164.9L748.8 1160.9L750.3 1157.9L751.8 1154.7L753.3 1151.9L754.8 1150.0L756.3 1149.7L757.8 1151.8L759.3 1155.2L760.8 1158.8L762.3 1161.3L763.8 1163.0L765.3 1164.5L766.8 1165.7L768.3 1166.3L769.8 1164.8L771.3 1158.7L772.8 1149.2L774.3 1138.0L775.8 1125.7L777.3 1107.4L778.8 1086.3L780.3 1067.1L781.8 1049.7L783.3 1032.8L784.8 1019.3L786.3 1011.1L787.8 1006.2L789.3 1011.0L790.8 1026.4L792.3 1045.9L793.8 1077.4L795.3 1110.3L796.8 1130.6L798.3 1147.5L799.8 1160.0L801.3 1165.6L802.8 1168.1L804.3 1169.9L805.8 1170.7L806.1 1170.7" stroke="#70c6da" stroke-width="2.6" stroke-dasharray="13.5 7"/><path d="M634.2 1170.7L635.7 1169.0L637.2 1166.7L638.7 1163.7L640.2 1159.6L641.7 1154.5L643.2 1149.0L644.7 1143.3L646.2 1137.9L647.7 1131.2L649.2 1124.2L650.7 1118.5L652.2 1116.0L653.7 1117.9L655.2 1123.2L656.7 1130.2L658.2 1137.0L659.7 1143.0L661.2 1150.1L662.7 1156.8L664.2 1161.4L665.7 1162.2L667.2 1158.7L668.7 1152.5L670.2 1145.3L671.7 1139.2L673.2 1133.6L674.7 1127.8L676.2 1122.6L677.7 1119.1L679.2 1117.7L680.7 1117.0L682.2 1116.5L683.7 1115.6L685.2 1112.7L686.7 1099.6L688.2 1082.7L689.7 1066.5L691.2 1049.5L692.7 1039.6L694.2 1034.6L695.7 1035.3L697.2 1045.0L698.7 1055.8L700.2 1063.9L701.7 1071.8L703.2 1077.8L704.7 1080.7L706.2 1082.0L707.7 1083.1L709.2 1085.0L710.7 1091.1L712.2 1101.0L713.7 1110.5L715.2 1116.5L716.7 1121.5L718.2 1123.7L719.7 1121.9L721.2 1117.4L722.7 1111.2L724.2 1104.0L725.7 1093.0L727.2 1079.6L728.7 1065.5L730.2 1047.9L731.7 1028.5L733.2 1013.2L734.7 1005.5L736.2 999.6L737.7 996.2L739.2 996.5L740.7 1001.2L742.2 1011.2L743.7 1037.7L745.2 1064.7L746.7 1083.1L748.2 1100.0L749.7 1112.2L751.2 1117.7L752.7 1120.9L754.2 1122.4L755.7 1120.9L757.2 1116.2L758.7 1109.7L760.2 1102.2L761.7 1090.4L763.2 1077.2L764.7 1067.1L766.2 1060.2L767.7 1055.0L769.2 1054.4L770.7 1059.0L772.2 1065.6L773.7 1072.6L775.2 1080.6L776.7 1085.5L778.2 1087.5L779.7 1089.2L781.2 1092.2L782.7 1096.8L784.2 1102.6L785.7 1109.5L787.2 1119.5L788.7 1131.4L790.2 1142.1L791.7 1150.0L793.2 1157.2L794.7 1162.8L796.2 1165.6L797.7 1167.3L799.2 1168.8L800.7 1169.8L802.2 1170.5L803.7 1170.7L805.2 1169.5L806.7 1166.7L808.2 1162.7L809.7 1158.2L811.2 1152.3L812.7 1143.4L814.2 1133.1L815.7 1123.0L817.2 1114.4L818.7 1105.8L820.2 1098.1L821.7 1092.5L823.2 1088.4L824.7 1085.4L826.2 1085.5L827.7 1090.2L829.2 1097.0L830.7 1106.8L832.2 1119.6L833.7 1128.1L835.2 1134.1L836.7 1137.7L838.2 1135.3L839.7 1126.3L841.2 1117.8L842.7 1110.4L844.2 1103.5L845.7 1099.5L847.2 1100.3L848.7 1105.3L850.2 1112.6L851.7 1120.3L853.2 1131.3L854.7 1143.7L856.2 1153.4L857.7 1158.4L859.2 1162.2L860.7 1165.1L862.2 1166.9L863.7 1168.3L865.2 1169.6L866.7 1170.4L868.2 1170.7" stroke="#3d70ba" stroke-width="2.6" stroke-dasharray="14 4 3 4"/><path d="M749.3 1170.7L750.8 1168.9L752.3 1167.2L753.8 1165.7L755.3 1164.2L756.8 1162.7L758.3 1161.2L759.8 1160.2L761.3 1159.9L762.8 1160.6L764.3 1161.9L765.8 1163.5L767.3 1165.1L768.8 1166.4L770.3 1167.7L771.8 1169.0L773.3 1170.1L774.8 1170.7L776.3 1169.7L777.8 1166.0L779.3 1160.3L780.8 1153.6L782.3 1146.9L783.8 1140.5L785.3 1133.1L786.8 1125.3L788.3 1117.9L789.8 1111.7L791.3 1105.3L792.8 1099.2L794.3 1094.6L795.8 1092.7L797.3 1094.2L798.8 1098.4L800.3 1104.7L801.8 1116.5L803.3 1144.3L804.8 1164.7L806.3 1169.3L807.4 1170.7" stroke="#6a3d9a" stroke-width="2.6" stroke-dasharray="12 3.4 2.4 3.4 2.4 3.4"/><path d="M893.6 1170.7L895.1 1170.7L896.6 1170.7L898.1 1170.7L899.6 1169.6L901.1 1163.4L902.6 1153.7L904.1 1143.3L905.6 1129.6L907.1 1113.0L908.6 1097.2L910.1 1084.3L911.6 1071.7L913.1 1061.4L914.6 1055.7L916.1 1052.4L917.6 1051.4L919.1 1056.4L920.6 1065.8L922.1 1081.7L923.6 1104.6L925.1 1124.1L926.6 1141.8L928.1 1155.2L929.6 1161.7L931.1 1166.8L932.6 1170.0L934.1 1170.7L935.6 1170.7L937.1 1170.7L938.6 1170.7L940.1 1170.7L941.6 1170.7L943.1 1170.7L944.6 1170.7L946.1 1170.7L947.6 1170.7L949.1 1170.7L950.6 1170.7L952.1 1170.7L953.6 1170.7L955.1 1170.7L956.6 1170.7L958.1 1170.7L959.6 1170.7L961.1 1170.7L962.6 1170.7L964.1 1170.7L965.6 1170.7L967.1 1170.7L968.6 1170.7L970.1 1170.7L971.6 1170.7L973.1 1170.7L974.6 1170.5L976.1 1169.1L977.6 1167.0L979.1 1164.6L980.6 1162.6L982.1 1161.3L983.6 1161.4L985.1 1162.7L986.6 1164.8L988.1 1167.2L989.6 1169.2L991.1 1170.5L992.6 1170.7L994.1 1170.7L995.6 1170.7L997.1 1170.7L998.6 1170.7L999.6 1170.7" stroke="#f07a05" stroke-width="2.6" stroke-dasharray="12 3.4 2.4 3.4 2.4 3.4"/><path d="M942.7 1170.7L944.2 1170.7L945.7 1170.7L947.2 1170.7L948.7 1169.7L950.2 1163.8L951.7 1154.3L953.2 1143.1L954.7 1126.0L956.2 1103.6L957.7 1079.7L959.2 1051.4L960.7 1029.0L962.2 1014.9L963.7 1004.5L965.2 1003.4L966.7 1016.6L968.2 1036.4L969.7 1058.2L971.2 1085.0L972.7 1109.7L974.2 1133.4L975.7 1152.7L977.2 1162.0L978.7 1168.2L980.2 1170.7L981.7 1170.7L983.2 1170.7L984.7 1170.7L986.2 1170.7L987.7 1170.7L989.2 1170.7L990.7 1170.7L992.2 1170.7L993.7 1170.7L995.2 1170.7L996.7 1170.7L998.2 1170.7L999.7 1170.7L1001.2 1170.7L1002.7 1170.7L1004.2 1170.7L1005.7 1170.7L1007.2 1170.7L1008.7 1170.7L1010.2 1170.7L1011.7 1170.7L1013.2 1170.7L1014.7 1170.7L1016.2 1170.7L1017.7 1170.7L1019.2 1170.7L1020.7 1170.7L1022.2 1170.7L1023.7 1170.7L1025.2 1170.7L1026.7 1170.7L1028.2 1165.5L1029.7 1153.1L1031.2 1137.4L1032.7 1112.1L1034.2 1084.4L1035.7 1058.5L1037.2 1033.2L1038.7 1017.8L1040.2 1008.3L1041.7 1002.7L1043.2 1005.8L1044.7 1021.7L1046.2 1042.2L1047.7 1071.6L1049.2 1105.2L1050.7 1127.7L1052.2 1144.6L1053.7 1156.4L1055.2 1163.9L1056.7 1169.4L1058.2 1170.7L1059.7 1170.7L1061.2 1170.7L1061.7 1170.7" stroke="#bb459c" stroke-width="2.6" stroke-dasharray="13.5 7"/><path d="M867.8 1170.7L869.3 1170.7L870.8 1170.7L872.3 1169.6L873.8 1160.4L875.3 1146.7L876.8 1130.7L878.3 1109.7L879.8 1087.0L881.3 1059.9L882.8 1034.5L884.3 1016.8L885.8 1001.2L887.3 992.3L888.8 995.2L890.3 1007.4L891.8 1025.3L893.3 1057.2L894.8 1090.1L896.3 1117.5L897.8 1142.0L899.3 1154.9L900.8 1162.7L902.3 1168.3L903.8 1170.7L905.3 1170.7L906.8 1170.7L908.3 1170.7L909.8 1170.7L911.3 1170.7L912.8 1170.7L914.3 1170.7L915.8 1170.7L917.3 1170.7L918.8 1170.7L920.3 1170.7L921.8 1170.7L923.3 1170.7L924.8 1170.7L926.3 1170.7L927.8 1170.7L929.3 1170.7L930.8 1170.7L932.3 1170.7L933.8 1170.7L935.3 1170.7L936.8 1170.7L938.3 1170.7L939.8 1170.7L941.3 1170.7L942.8 1170.7L944.3 1170.7L945.8 1170.7L947.3 1170.7L948.8 1170.7L950.3 1170.7L951.8 1170.7L953.3 1170.7L954.8 1170.7L956.3 1170.7L957.8 1170.7L959.3 1170.7L960.8 1170.7L962.3 1170.6L963.8 1160.7L965.3 1141.3L966.8 1121.2L968.3 1097.0L969.8 1069.2L971.3 1034.4L972.8 996.1L974.3 968.2L975.8 945.5L977.3 936.5L978.8 956.6L980.3 990.1L981.8 1029.6L983.3 1073.2L984.8 1105.4L986.3 1131.8L987.8 1150.4L989.3 1161.1L990.8 1168.7L992.3 1170.7L993.8 1170.7L995.3 1170.7L996.8 1170.7L998.3 1170.7L999.8 1170.7L1001.3 1170.7L1002.8 1170.7L1004.3 1170.7L1005.8 1170.7L1007.3 1170.7L1008.8 1170.7L1010.3 1170.7L1011.8 1170.7L1013.3 1170.7L1014.8 1170.7L1016.3 1170.7L1017.8 1170.7L1019.3 1170.7L1020.8 1170.7L1022.3 1170.7L1023.8 1170.7L1025.3 1170.7L1026.8 1170.7L1028.3 1170.7L1029.8 1170.7L1031.3 1170.7L1032.8 1170.7L1034.3 1170.7L1035.8 1170.7L1037.3 1161.5L1038.8 1142.1L1040.3 1126.0L1041.8 1111.6L1043.3 1099.6L1044.8 1091.0L1046.3 1085.3L1047.8 1088.3L1049.3 1099.4L1050.8 1112.2L1052.3 1129.1L1053.8 1143.5L1055.3 1152.3L1056.8 1159.8L1058.3 1165.0L1059.8 1167.1L1061.3 1168.4L1062.8 1169.4L1064.3 1170.2L1065.8 1170.6L1067.3 1170.7L1068.8 1170.7L1070.3 1170.7L1071.8 1170.7L1073.3 1167.0L1074.8 1155.6L1076.3 1140.5L1077.8 1125.5L1079.3 1107.5L1080.8 1087.4L1082.3 1067.8L1083.8 1047.8L1085.3 1027.1L1086.8 1010.3L1088.3 1000.8L1089.8 993.9L1091.3 988.5L1092.8 984.2L1094.3 981.0L1095.8 978.5L1096.6 977.6" stroke="#e6007e" stroke-width="2.6" stroke-dasharray="14 4 3 4"/><path d="M634.2 1170.7L635.7 1164.0L637.2 1154.9L638.7 1144.3L640.2 1132.7L641.7 1120.6L643.2 1107.1L644.7 1091.8L646.2 1078.0L647.7 1069.0L649.2 1061.9L650.7 1057.9L652.2 1060.8L653.7 1070.9L655.2 1084.2L656.7 1097.3L658.2 1113.6L659.7 1130.6L661.2 1143.5L662.7 1151.9L664.2 1158.8L665.7 1162.4L667.2 1158.9L668.7 1147.5L670.2 1133.2L671.7 1115.9L673.2 1093.2L674.7 1073.5L676.2 1063.7L677.7 1057.5L679.2 1054.5L680.7 1057.0L682.2 1064.1L683.7 1070.5L685.2 1071.2L686.7 1062.9L688.2 1049.1L689.7 1026.4L691.2 990.3L692.7 956.6L694.2 924.0L695.7 897.1L697.2 883.2L698.7 876.1L700.2 882.8L701.7 899.6L703.2 917.5L704.7 939.4L706.2 962.9L707.7 982.3L709.2 996.5L710.7 1008.0L712.2 1013.6L713.7 1016.1L715.2 1014.8L716.7 1006.3L718.2 994.6L719.7 977.4L721.2 955.9L722.7 939.0L724.2 928.5L725.7 939.9L727.2 962.3L728.7 992.6L730.2 1031.3L731.7 1066.2L733.2 1100.3L734.7 1127.5L736.2 1143.0L737.7 1154.2L739.2 1160.9L740.7 1165.5L742.2 1168.9L743.7 1170.6L745.2 1170.7L746.7 1170.7L748.2 1170.7L749.7 1170.7L751.2 1170.7L752.7 1170.7L754.2 1170.7L754.4 1170.7" stroke="#3e489c" stroke-width="3.3"/><path d="M919.5 1170.7L921.0 1170.7L922.5 1170.7L924.0 1170.7L925.5 1170.7L927.0 1168.2L928.5 1157.6L930.0 1142.8L931.5 1127.8L933.0 1110.2L934.5 1090.2L936.0 1070.5L937.5 1050.6L939.0 1032.3L940.5 1025.3L942.0 1022.9L943.5 1036.6L945.0 1061.7L946.5 1083.4L948.0 1105.4L949.5 1120.6L951.0 1131.2L952.5 1135.2L954.0 1125.9L955.5 1108.1L957.0 1081.8L958.5 1043.4L960.0 1003.6L961.5 958.1L963.0 923.7L964.5 903.0L966.0 893.1L967.5 902.2L969.0 922.6L970.5 956.0L972.0 1001.6L973.5 1040.7L975.0 1077.8L976.5 1107.7L978.0 1132.3L979.5 1147.1L981.0 1151.7L982.5 1148.1L984.0 1132.9L985.5 1110.9L987.0 1082.6L988.5 1060.7L990.0 1042.7L991.5 1029.9L993.0 1024.3L994.5 1024.3L996.0 1037.2L997.5 1048.8L999.0 1058.0L1000.5 1063.9L1002.0 1061.2L1003.5 1050.6L1005.0 1039.8L1006.5 1028.7L1008.0 1018.5L1009.5 1015.2L1011.0 1018.4L1012.5 1022.7L1014.0 1026.5L1015.5 1027.9L1017.0 1024.6L1018.5 1020.1L1020.0 1018.4L1021.5 1027.2L1023.0 1041.8L1024.5 1060.7L1026.0 1082.6L1027.5 1100.9L1029.0 1117.9L1030.5 1130.5L1032.0 1138.4L1033.5 1143.0L1035.0 1138.5L1036.5 1125.0L1038.0 1106.5L1039.5 1077.5L1041.0 1054.0L1042.5 1039.7L1044.0 1028.2L1045.5 1022.9L1047.0 1030.1L1048.5 1044.3L1050.0 1054.7L1051.5 1064.0L1053.0 1066.5L1054.5 1059.5L1056.0 1049.1L1057.5 1040.6L1059.0 1031.4L1060.5 1025.0L1062.0 1027.6L1063.5 1044.4L1065.0 1062.7L1066.5 1083.7L1068.0 1103.8L1069.5 1121.1L1071.0 1136.7L1072.5 1147.0L1074.0 1154.7L1075.5 1160.7L1077.0 1164.7L1078.5 1167.2L1080.0 1169.2L1081.5 1170.5L1083.0 1170.4L1084.5 1168.0L1086.0 1163.4L1087.5 1157.5L1089.0 1147.1L1090.5 1130.4L1092.0 1109.3L1093.5 1076.4L1095.0 1049.0L1096.5 1039.2L1096.8 1038.4" stroke="#cf0a14" stroke-width="3.3"/></g>
<path d="M665.8 1170.4L665.8 1164.1000000000001M665.8 750.0L665.8 756.3M727.2 1170.4L727.2 1164.1000000000001M727.2 750.0L727.2 756.3M788.7 1170.4L788.7 1164.1000000000001M788.7 750.0L788.7 756.3M850.1 1170.4L850.1 1164.1000000000001M850.1 750.0L850.1 756.3M911.7 1170.4L911.7 1164.1000000000001M911.7 750.0L911.7 756.3M973.3 1170.4L973.3 1164.1000000000001M973.3 750.0L973.3 756.3M1035.0 1170.4L1035.0 1164.1000000000001M1035.0 750.0L1035.0 756.3M635.0 801.2L641.3 801.2M1096.0 801.2L1089.7 801.2M635.0 924.2L641.3 924.2M1096.0 924.2L1089.7 924.2M635.0 1047.2L641.3 1047.2M1096.0 1047.2L1089.7 1047.2" stroke="#000" stroke-width="1.4" fill="none"/>
<path d="M633.55 750.0L1096.85 750.0" stroke="#000" stroke-width="2.0"/><path d="M633.55 1170.4L1096.85 1170.4" stroke="#000" stroke-width="2.9"/><path d="M635.0 749.0L635.0 1171.8500000000001" stroke="#000" stroke-width="2.9"/><path d="M1096.0 749.0L1096.0 1171.8500000000001" stroke="#000" stroke-width="1.7"/>
<text x="628.0" y="1200.0" font-size="28.95" text-anchor="middle" font-weight="normal" fill="#111" >–4</text>
<text x="664.5" y="1200.0" font-size="28.95" text-anchor="middle" font-weight="normal" fill="#111" >–3</text>
<text x="727.2" y="1201.5" font-size="28.95" text-anchor="middle" font-weight="normal" fill="#111" >–2</text>
<text x="788.7" y="1201.5" font-size="28.95" text-anchor="middle" font-weight="normal" fill="#111" >–1</text>
<text x="850.1" y="1200.0" font-size="28.95" text-anchor="middle" font-weight="normal" fill="#111" >0</text>
<text x="911.7" y="1200.0" font-size="28.95" text-anchor="middle" font-weight="normal" fill="#111" >1</text>
<text x="973.3" y="1201.5" font-size="28.95" text-anchor="middle" font-weight="normal" fill="#111" >2</text>
<text x="1035.0" y="1200.0" font-size="28.95" text-anchor="middle" font-weight="normal" fill="#111" >3</text>
<text x="1096.0" y="1200.0" font-size="28.95" text-anchor="middle" font-weight="normal" fill="#111" >4</text>
<text x="625.7" y="810.0" font-size="25.30" text-anchor="end" font-weight="normal" fill="#111" >6</text>
<text x="625.6" y="930.9" font-size="25.30" text-anchor="end" font-weight="normal" fill="#111" >4</text>
<text x="626.8" y="1055.9" font-size="25.30" text-anchor="end" font-weight="normal" fill="#111" >2</text>
<text transform="translate(563.2 731.3) scale(0.905 1)" font-size="44.9" font-weight="bold" fill="#000">C</text>
<text x="867.4" y="809.5" font-size="28.95" text-anchor="middle" font-weight="normal" fill="#111" >Strained H-SiB</text>
<text x="853.8" y="839.5" font-size="28.95" text-anchor="middle" font-weight="normal" fill="#111" >(–6%)</text>
<text transform="translate(585.2 948.2) rotate(-90)" font-size="28.95" text-anchor="middle" fill="#111">Hot carrier distribution</text>
<text x="860.5" y="1231.0" font-size="28.95" text-anchor="middle" font-weight="normal" fill="#111" >Energy (eV)</text>
<g clip-path="url(#clipD)" fill="none" stroke-linejoin="round"><path d="M1221.1 1172.5L1222.6 1172.5L1224.1 1172.5L1225.6 1172.5L1227.1 1166.9L1228.6 1152.3L1230.1 1134.8L1231.6 1116.3L1233.1 1093.5L1234.6 1069.0L1236.1 1045.5L1237.6 1024.0L1239.1 1002.7L1240.6 983.9L1242.1 967.7L1243.6 951.5L1245.1 939.4L1246.6 936.6L1248.1 954.1L1249.6 982.6L1251.1 1007.6L1252.6 1033.4L1254.1 1058.9L1255.6 1081.8L1257.1 1103.9L1258.6 1123.4L1260.1 1137.9L1261.6 1150.1L1263.1 1159.4L1264.6 1164.4L1266.1 1167.8L1267.6 1170.5L1269.1 1172.1L1270.6 1172.4L1272.1 1169.6L1273.6 1163.7L1275.1 1155.7L1276.6 1146.3L1278.1 1128.7L1279.6 1105.4L1281.1 1085.2L1282.6 1068.1L1284.1 1052.9L1285.6 1043.4L1287.1 1038.5L1288.6 1034.6L1290.1 1032.3L1291.6 1032.0L1293.1 1036.2L1294.6 1044.1L1296.1 1054.0L1297.6 1069.3L1299.1 1092.5L1300.6 1113.6L1302.1 1127.6L1303.6 1140.2L1305.1 1147.3L1306.6 1145.1L1308.1 1134.5L1309.6 1121.5L1311.1 1110.1L1312.6 1097.5L1314.1 1085.0L1315.6 1074.7L1317.1 1067.6L1318.6 1061.2L1320.1 1055.6L1321.6 1051.5L1323.1 1049.6L1324.6 1052.9L1326.1 1063.3L1327.6 1076.2L1329.1 1096.9L1330.6 1119.7L1332.1 1136.6L1333.6 1150.6L1335.1 1161.7L1336.6 1166.9L1338.1 1169.3L1339.6 1171.1L1341.1 1172.2L1342.4 1172.5" stroke="#70c6da" stroke-width="2.6" stroke-dasharray="13.5 7"/><path d="M1189.4 1006.6L1190.9 1007.9L1192.4 1011.2L1193.9 1020.0L1195.4 1032.8L1196.9 1046.7L1198.4 1058.7L1199.9 1070.6L1201.4 1082.9L1202.9 1094.5L1204.4 1104.5L1205.9 1111.9L1207.4 1118.2L1208.9 1123.9L1210.4 1128.0L1211.9 1129.4L1213.4 1124.9L1214.9 1114.4L1216.4 1100.8L1217.9 1087.0L1219.4 1071.4L1220.9 1052.6L1222.4 1034.2L1223.9 1020.2L1225.4 1010.7L1226.9 1002.1L1228.4 996.1L1229.9 994.4L1231.4 998.8L1232.9 1007.2L1234.4 1016.4L1235.9 1024.4L1237.4 1032.8L1238.9 1041.4L1240.4 1049.6L1241.9 1057.4L1243.4 1066.1L1244.9 1074.6L1246.4 1081.6L1247.9 1085.8L1249.4 1085.8L1250.9 1081.1L1252.4 1072.8L1253.9 1062.5L1255.4 1050.2L1256.9 1028.7L1258.4 1005.4L1259.9 990.6L1261.4 979.7L1262.9 971.8L1264.4 969.8L1265.9 972.9L1267.4 979.0L1268.9 987.0L1270.4 995.6L1271.9 1007.7L1273.4 1023.4L1274.9 1040.5L1276.4 1056.5L1277.9 1072.3L1279.4 1088.5L1280.9 1103.7L1282.4 1116.7L1283.9 1128.0L1285.4 1138.8L1286.9 1147.7L1288.4 1153.5L1289.9 1156.6L1291.4 1158.9L1292.9 1160.1L1294.4 1157.2L1295.9 1147.7L1297.4 1135.7L1298.9 1122.7L1300.4 1106.3L1301.9 1090.7L1303.4 1078.9L1304.9 1068.1L1306.4 1060.4L1307.9 1057.4L1309.4 1055.9L1310.9 1057.2L1312.4 1066.1L1313.9 1079.2L1315.4 1093.5L1316.9 1113.9L1318.4 1133.7L1319.9 1145.2L1321.4 1153.3L1322.9 1159.8L1324.4 1164.4L1325.9 1166.8L1327.4 1168.5L1328.9 1169.9L1330.4 1171.0L1331.9 1171.9L1333.4 1172.4L1334.9 1172.5L1336.4 1172.5L1337.9 1172.5L1339.4 1172.5L1340.9 1172.5L1342.4 1172.5L1343.9 1172.5L1345.4 1172.5L1346.9 1172.5L1347.0 1172.5" stroke="#3d70ba" stroke-width="2.6" stroke-dasharray="14 4 3 4"/><path d="M1267.1 1172.5L1268.6 1171.3L1270.1 1170.1L1271.6 1169.0L1273.1 1167.9L1274.6 1166.7L1276.1 1165.4L1277.6 1164.1L1279.1 1163.0L1280.6 1162.1L1282.1 1161.7L1283.6 1161.8L1285.1 1162.5L1286.6 1163.6L1288.1 1164.9L1289.6 1166.2L1291.1 1167.4L1292.6 1168.4L1294.1 1169.6L1295.6 1170.8L1297.1 1171.8L1298.6 1172.4L1300.1 1172.5L1301.6 1172.5L1303.1 1172.5L1304.6 1172.5L1306.1 1172.5L1307.6 1172.1L1309.1 1168.2L1310.6 1161.4L1312.1 1153.3L1313.6 1145.6L1315.1 1136.4L1316.6 1126.2L1318.1 1116.8L1319.6 1109.9L1321.1 1104.0L1322.6 1098.5L1324.1 1094.3L1325.6 1092.1L1327.1 1092.9L1328.6 1097.2L1330.1 1103.7L1331.6 1111.0L1333.1 1120.9L1334.6 1133.9L1336.1 1147.0L1337.6 1161.8L1339.1 1172.3L1340.6 1172.5L1342.1 1172.5L1342.4 1172.5" stroke="#6a3d9a" stroke-width="2.6" stroke-dasharray="12 3.4 2.4 3.4 2.4 3.4"/><path d="M1356.2 1172.5L1357.7 1169.8L1359.2 1167.2L1360.7 1164.9L1362.2 1162.5L1363.7 1160.1L1365.2 1158.0L1366.7 1157.1L1368.2 1157.7L1369.7 1159.6L1371.2 1162.1L1372.7 1164.5L1374.2 1166.1L1375.7 1166.6L1377.2 1167.0L1378.7 1167.3L1380.2 1167.5L1381.7 1167.7L1383.2 1167.8L1384.7 1167.3L1386.2 1164.3L1387.7 1160.1L1389.2 1155.8L1390.7 1152.5L1392.2 1149.3L1393.7 1145.9L1395.2 1142.6L1396.7 1139.6L1398.2 1136.9L1399.7 1134.9L1401.2 1133.7L1402.7 1133.5L1404.2 1134.6L1405.7 1136.9L1407.2 1140.1L1408.7 1143.7L1410.2 1147.6L1411.7 1151.4L1413.2 1154.7L1414.7 1157.3L1416.2 1159.4L1417.7 1161.4L1419.2 1163.3L1420.7 1164.9L1422.2 1166.2L1423.7 1167.4L1425.2 1168.6L1426.7 1169.7L1428.2 1170.7L1429.7 1171.5L1431.2 1172.1L1432.7 1172.5L1434.2 1172.5L1435.7 1172.2L1437.2 1171.8L1438.7 1171.2L1440.2 1170.4L1441.7 1169.4L1443.2 1168.3L1444.7 1167.1L1446.2 1165.7L1447.7 1163.1L1449.2 1159.2L1450.7 1154.7L1452.2 1149.8L1453.7 1145.1L1455.2 1140.9L1456.7 1136.2L1458.2 1131.4L1459.7 1127.6L1461.2 1126.4L1462.7 1127.8L1464.2 1131.1L1465.7 1135.2L1467.2 1139.0L1468.7 1141.7L1470.2 1143.2L1471.7 1144.5L1473.2 1145.5L1474.7 1146.5L1476.2 1147.4L1477.7 1148.3L1479.2 1149.4L1480.7 1150.6L1482.2 1152.2L1483.7 1154.1L1485.2 1156.2L1486.7 1158.1L1488.2 1159.7L1489.7 1160.8L1491.2 1161.7L1492.7 1162.5L1494.2 1163.3L1495.7 1163.9L1497.2 1164.6L1498.7 1165.2L1500.2 1165.9L1501.7 1166.6L1503.2 1167.6L1504.7 1168.5L1506.2 1169.6L1507.7 1170.5L1509.2 1171.4L1510.7 1172.0L1512.2 1172.4L1513.7 1172.5L1515.2 1172.0L1516.7 1171.0L1518.2 1169.6L1519.7 1167.9L1521.2 1165.9L1522.7 1162.3L1524.2 1156.6L1525.7 1149.4L1527.2 1141.1L1528.7 1132.0L1530.2 1120.0L1531.7 1104.6L1533.2 1087.8L1534.7 1071.7L1536.2 1055.9L1537.7 1039.4L1539.2 1023.9L1540.7 1011.1L1542.2 1000.4L1543.7 990.0L1545.2 981.7L1546.7 977.6L1548.2 982.3L1549.7 999.0L1551.2 1019.4L1552.7 1038.5L1554.2 1060.2L1555.7 1080.3L1557.2 1095.6L1558.7 1109.0L1560.2 1119.7L1561.7 1127.2L1563.2 1133.8L1564.7 1138.0L1566.2 1138.0L1567.7 1133.7L1569.2 1127.1L1570.7 1120.4L1572.2 1115.5L1573.7 1111.7L1575.2 1108.3L1576.7 1104.7L1578.2 1100.5L1579.7 1095.8L1581.2 1090.8L1582.7 1085.2L1584.2 1078.9L1585.7 1070.6L1587.2 1061.8L1588.7 1055.0L1590.2 1049.6L1591.7 1045.6L1593.2 1046.4L1594.7 1056.7L1596.2 1072.0L1597.7 1086.2L1599.2 1098.8L1600.7 1112.1L1602.2 1123.8L1603.7 1131.9L1605.2 1136.7L1606.7 1140.9L1608.2 1144.3L1609.7 1146.7L1611.2 1147.8L1612.7 1147.0L1614.2 1143.9L1615.7 1139.3L1617.2 1134.1L1618.7 1128.7L1620.2 1122.0L1621.7 1114.1L1623.2 1105.5L1624.7 1096.1L1626.2 1084.9L1627.7 1072.8L1629.2 1061.1L1630.7 1050.7L1632.2 1040.0L1633.7 1030.0L1635.2 1022.0L1636.7 1017.3L1638.2 1014.4L1639.7 1016.5L1641.2 1024.3L1642.7 1034.7L1644.2 1053.3L1645.7 1074.5L1647.2 1088.7L1648.7 1097.9L1650.2 1104.0L1650.6 1104.8" stroke="#e6007e" stroke-width="2.6" stroke-dasharray="13.5 7"/><path d="M1464.1 1172.5L1465.6 1172.5L1467.1 1172.5L1468.6 1172.5L1470.1 1172.5L1471.6 1170.8L1473.1 1165.6L1474.6 1158.1L1476.1 1149.5L1477.6 1138.2L1479.1 1121.9L1480.6 1105.5L1482.1 1091.3L1483.6 1077.2L1485.1 1066.8L1486.6 1062.2L1488.1 1060.3L1489.6 1067.1L1491.1 1080.7L1492.6 1094.4L1494.1 1110.8L1495.6 1126.4L1497.1 1137.5L1498.6 1146.5L1500.1 1153.8L1501.6 1159.3L1503.1 1164.5L1504.6 1169.0L1506.1 1171.9L1507.6 1172.5L1509.1 1172.5L1510.6 1172.5L1512.1 1172.5L1513.6 1172.5L1515.1 1172.5L1516.6 1172.5L1518.1 1172.5L1519.6 1172.5L1521.1 1172.5L1522.6 1172.5L1524.1 1172.5L1525.6 1172.5L1527.1 1172.5L1528.6 1172.5L1530.1 1172.5L1531.6 1172.5L1533.1 1172.5L1534.6 1172.5L1536.1 1172.5L1537.6 1172.5L1539.1 1172.5L1540.6 1172.5L1542.1 1172.5L1543.6 1172.5L1545.1 1172.5L1546.6 1172.5L1548.1 1172.5L1549.6 1172.5L1551.1 1172.5L1552.6 1172.5L1554.1 1172.5L1555.6 1172.5L1557.1 1172.5L1558.6 1172.5L1560.1 1172.5L1561.6 1172.5L1563.1 1172.5L1564.6 1172.5L1566.1 1172.5L1567.6 1172.5L1569.1 1172.5L1570.6 1172.5L1572.1 1172.5L1573.6 1172.5L1575.1 1172.5L1576.6 1172.5L1578.1 1172.4L1579.6 1169.4L1581.1 1163.3L1582.6 1155.3L1584.1 1146.5L1585.6 1133.7L1587.1 1117.3L1588.6 1100.5L1590.1 1082.5L1591.6 1063.9L1593.1 1049.5L1594.6 1038.4L1596.1 1029.2L1597.6 1025.0L1599.1 1029.2L1600.6 1040.4L1602.1 1053.9L1603.6 1069.3L1605.1 1088.7L1606.6 1107.6L1608.1 1123.9L1609.6 1139.6L1611.1 1151.7L1612.6 1158.9L1614.1 1165.1L1615.6 1169.8L1617.1 1172.3L1618.6 1172.5L1620.1 1172.5L1621.6 1172.5L1623.1 1172.5L1623.8 1172.5" stroke="#bb459c" stroke-width="2.6" stroke-dasharray="14 4 3 4"/><path d="M1484.1 1172.5L1485.6 1172.5L1487.1 1172.5L1488.6 1172.5L1490.1 1171.4L1491.6 1168.1L1493.1 1163.3L1494.6 1158.0L1496.1 1151.3L1497.6 1141.9L1499.1 1131.0L1500.6 1119.9L1502.1 1108.9L1503.6 1096.9L1505.1 1084.9L1506.6 1074.3L1508.1 1065.2L1509.6 1056.1L1511.1 1050.3L1512.6 1050.7L1514.1 1056.9L1515.6 1066.2L1517.1 1076.8L1518.6 1092.1L1520.1 1108.7L1521.6 1123.0L1523.1 1136.7L1524.6 1148.5L1526.1 1156.4L1527.6 1162.8L1529.1 1168.2L1530.6 1171.6L1532.1 1172.5L1533.6 1172.5L1535.1 1172.5L1536.6 1172.5L1538.1 1172.5L1539.6 1172.5L1541.1 1172.5L1542.6 1172.5L1544.1 1172.5L1545.6 1172.5L1547.1 1172.5L1548.6 1172.5L1550.1 1172.5L1551.6 1172.5L1553.1 1172.5L1554.6 1172.5L1556.1 1172.5L1557.6 1172.5L1559.1 1172.5L1560.6 1172.5L1562.1 1172.5L1563.6 1172.5L1565.1 1172.5L1566.6 1172.5L1568.1 1172.5L1569.6 1172.5L1571.1 1172.5L1572.6 1172.5L1574.1 1172.5L1575.6 1172.5L1577.1 1172.5L1578.6 1172.4L1580.1 1171.8L1581.6 1170.7L1583.1 1169.5L1584.6 1168.4L1586.1 1167.4L1587.6 1166.2L1589.1 1165.1L1590.6 1164.0L1592.1 1163.3L1593.6 1163.2L1595.1 1163.7L1596.6 1164.6L1598.1 1165.7L1599.6 1166.9L1601.1 1168.0L1602.6 1169.1L1604.1 1170.2L1605.6 1171.4L1607.0 1172.5" stroke="#f07a05" stroke-width="2.6" stroke-dasharray="12 3.4 2.4 3.4 2.4 3.4"/><path d="M1190.4 1172.5L1191.9 1172.5L1193.4 1172.5L1194.9 1172.5L1196.4 1172.5L1197.9 1172.3L1199.4 1171.6L1200.9 1170.3L1202.4 1168.6L1203.9 1166.5L1205.4 1163.9L1206.9 1158.5L1208.4 1146.2L1209.9 1128.8L1211.4 1108.7L1212.9 1085.1L1214.4 1052.3L1215.9 1014.7L1217.4 977.8L1218.9 944.8L1220.4 911.3L1221.9 882.3L1223.4 861.9L1224.9 844.1L1226.4 832.1L1227.9 831.2L1229.4 841.6L1230.9 858.9L1232.4 879.6L1233.9 912.4L1235.4 952.0L1236.9 989.2L1238.4 1027.0L1239.9 1063.1L1241.4 1091.9L1242.9 1116.0L1244.4 1136.0L1245.9 1149.3L1247.4 1159.0L1248.9 1167.0L1250.4 1171.8L1251.9 1171.4L1253.4 1162.9L1254.9 1148.9L1256.4 1132.8L1257.9 1111.1L1259.4 1083.1L1260.9 1057.6L1262.4 1037.5L1263.9 1018.4L1265.4 1002.0L1266.9 989.8L1268.4 981.4L1269.9 974.0L1271.4 969.2L1272.9 969.2L1274.4 982.6L1275.9 1003.0L1277.4 1024.6L1278.9 1051.6L1280.4 1077.8L1281.9 1098.2L1283.4 1117.0L1284.9 1131.3L1286.4 1139.0L1287.9 1144.0L1289.4 1143.1L1290.9 1131.1L1292.4 1112.9L1293.9 1093.2L1295.4 1066.0L1296.9 1038.3L1298.4 1019.9L1299.9 1005.2L1301.4 993.7L1302.9 988.2L1304.4 993.8L1305.9 1010.0L1307.4 1028.7L1308.9 1053.4L1310.4 1081.4L1311.9 1104.1L1313.4 1122.3L1314.9 1137.8L1316.4 1148.2L1317.9 1155.2L1319.4 1161.0L1320.9 1165.3L1322.4 1167.7L1323.9 1169.1L1325.4 1170.2L1326.9 1171.1L1328.4 1171.8L1329.9 1172.3L1331.4 1172.5L1331.6 1172.5" stroke="#3e489c" stroke-width="2.7"/><path d="M1476.4 1172.5L1477.9 1172.5L1479.4 1172.5L1480.9 1172.5L1482.4 1172.5L1483.9 1170.9L1485.4 1166.0L1486.9 1158.6L1488.4 1149.6L1489.9 1136.6L1491.4 1115.8L1492.9 1092.3L1494.4 1068.6L1495.9 1042.2L1497.4 1017.0L1498.9 994.2L1500.4 971.6L1501.9 960.5L1503.4 959.3L1504.9 959.3L1506.4 973.4L1507.9 997.9L1509.4 1021.2L1510.9 1047.3L1512.4 1073.4L1513.9 1095.5L1515.4 1116.5L1516.9 1134.0L1518.4 1144.9L1519.9 1152.9L1521.4 1159.3L1522.9 1164.0L1524.4 1166.9L1525.9 1169.1L1527.4 1171.0L1528.9 1172.2L1530.4 1172.4L1531.9 1168.0L1533.4 1158.5L1534.9 1145.7L1536.4 1131.4L1537.9 1109.8L1539.4 1081.7L1540.9 1055.6L1542.4 1033.4L1543.9 1012.5L1545.4 995.3L1546.9 980.4L1548.4 967.2L1549.9 960.6L1551.4 966.5L1552.9 984.1L1554.4 1005.4L1555.9 1027.5L1557.4 1054.2L1558.9 1080.1L1560.4 1102.2L1561.9 1122.4L1563.4 1134.9L1564.9 1142.4L1566.4 1140.7L1567.9 1128.3L1569.4 1110.3L1570.9 1089.6L1572.4 1060.5L1573.9 1026.9L1575.4 993.1L1576.9 955.2L1578.4 919.2L1579.9 891.9L1581.4 868.8L1582.9 852.4L1584.4 844.2L1585.9 839.5L1587.4 843.2L1588.9 858.2L1590.4 875.7L1591.9 897.6L1593.4 921.9L1594.9 942.0L1596.4 961.1L1597.9 975.2L1599.4 976.2L1600.9 969.1L1602.4 960.1L1603.9 952.5L1605.4 945.3L1606.9 944.6L1608.4 954.0L1609.9 968.7L1611.4 990.7L1612.9 1022.0L1614.4 1052.2L1615.9 1077.3L1617.4 1101.1L1618.9 1120.2L1620.4 1134.0L1621.9 1145.6L1623.4 1153.0L1624.9 1155.3L1626.4 1156.6L1627.9 1158.2L1629.4 1160.1L1630.9 1162.3L1632.4 1165.1L1633.9 1169.0L1635.4 1172.1L1636.9 1172.5L1638.4 1172.5L1639.9 1172.5L1641.4 1172.5L1642.3 1172.5" stroke="#cf0a14" stroke-width="2.7"/></g>
<path d="M1193.4 1172.2L1193.4 1165.9M1193.4 751.5L1193.4 757.8M1251.3 1172.2L1251.3 1165.9M1251.3 751.5L1251.3 757.8M1308.2 1172.2L1308.2 1165.9M1308.2 751.5L1308.2 757.8M1365.2 1172.2L1365.2 1165.9M1365.2 751.5L1365.2 757.8M1422.3 1172.2L1422.3 1165.9M1422.3 751.5L1422.3 757.8M1479.3 1172.2L1479.3 1165.9M1479.3 751.5L1479.3 757.8M1536.3 1172.2L1536.3 1165.9M1536.3 751.5L1536.3 757.8M1593.1 1172.2L1593.1 1165.9M1593.1 751.5L1593.1 757.8M1190.1 793.4L1196.3999999999999 793.4M1650.4 793.4L1644.1000000000001 793.4M1190.1 919.6L1196.3999999999999 919.6M1650.4 919.6L1644.1000000000001 919.6M1190.1 1046.0L1196.3999999999999 1046.0M1650.4 1046.0L1644.1000000000001 1046.0" stroke="#000" stroke-width="1.4" fill="none"/>
<path d="M1188.35 751.5L1651.6000000000001 751.5" stroke="#000" stroke-width="2.5"/><path d="M1188.35 1172.2L1651.6000000000001 1172.2" stroke="#000" stroke-width="2.1"/><path d="M1190.1 750.25L1190.1 1173.25" stroke="#000" stroke-width="3.5"/><path d="M1650.4 750.25L1650.4 1173.25" stroke="#000" stroke-width="2.4"/>
<text x="1193.0" y="1200.5" font-size="28.95" text-anchor="middle" font-weight="normal" fill="#111" >–4</text>
<text x="1250.7" y="1200.5" font-size="28.95" text-anchor="middle" font-weight="normal" fill="#111" >–3</text>
<text x="1308.2" y="1202.0" font-size="28.95" text-anchor="middle" font-weight="normal" fill="#111" >–2</text>
<text x="1365.2" y="1202.0" font-size="28.95" text-anchor="middle" font-weight="normal" fill="#111" >–1</text>
<text x="1419.8" y="1200.7" font-size="28.95" text-anchor="middle" font-weight="normal" fill="#111" >0</text>
<text x="1473.0" y="1200.7" font-size="28.95" text-anchor="middle" font-weight="normal" fill="#111" >1</text>
<text x="1534.2" y="1202.2" font-size="28.95" text-anchor="middle" font-weight="normal" fill="#111" >2</text>
<text x="1593.8" y="1200.7" font-size="28.95" text-anchor="middle" font-weight="normal" fill="#111" >3</text>
<text x="1655.2" y="1200.5" font-size="28.95" text-anchor="middle" font-weight="normal" fill="#111" >4</text>
<text x="1179.0" y="806.0" font-size="25.30" text-anchor="end" font-weight="normal" fill="#111" >6</text>
<text x="1180.8" y="925.9" font-size="25.30" text-anchor="end" font-weight="normal" fill="#111" >4</text>
<text x="1181.9" y="1052.9" font-size="25.30" text-anchor="end" font-weight="normal" fill="#111" >2</text>
<text transform="translate(1118.0 732.8) scale(0.905 1)" font-size="44.9" font-weight="bold" fill="#000">D</text>
<text x="1410.6" y="789.6" font-size="28.95" text-anchor="middle" font-weight="normal" fill="#111" >Strained H-SiB</text>
<text x="1397.5" y="818.3" font-size="28.95" text-anchor="middle" font-weight="normal" fill="#111" >(+6%)</text>
<text transform="translate(1138.8 959.3) rotate(-90)" font-size="28.95" text-anchor="middle" fill="#111">Hot carrier distribution</text>
<text x="1421.0" y="1231.0" font-size="28.95" text-anchor="middle" font-weight="normal" fill="#111" >Energy (eV)</text>
<path d="M1663.6 773.9L1727.2 773.9" stroke="#cf0a14" stroke-width="3.3" fill="none"/>
<text x="1747.5" y="782.0" font-size="25.00" text-anchor="start" font-weight="normal" fill="#111" >T = 300 K (electrons)</text>
<path d="M1663.6 806.3L1727.2 806.3" stroke="#3e489c" stroke-width="3.3" fill="none"/>
<text x="1837.0" y="812.0" font-size="25.00" text-anchor="start" font-weight="normal" fill="#111" >(holes)</text>
<path d="M1663.6 838.4L1727.2 838.4" stroke="#e6007e" stroke-width="3.3" fill="none" stroke-dasharray="13.4 13.5" stroke-dashoffset="4.2"/>
<text x="1747.5" y="846.9" font-size="25.00" text-anchor="start" font-weight="normal" fill="#111" >T = 200 K (electrons)</text>
<path d="M1663.6 870.6L1727.2 870.6" stroke="#70c6da" stroke-width="3.3" fill="none" stroke-dasharray="13.4 13.5" stroke-dashoffset="4.2"/>
<text x="1837.0" y="876.5" font-size="25.00" text-anchor="start" font-weight="normal" fill="#111" >(holes)</text>
<path d="M1663.6 902.8L1727.2 902.8" stroke="#bb459c" stroke-width="3.3" fill="none" stroke-dasharray="13.4 5.4 2.7 5.4" stroke-dashoffset="4.2"/>
<text x="1747.5" y="911.1" font-size="25.00" text-anchor="start" font-weight="normal" fill="#111" >T = 100 K (electrons)</text>
<path d="M1663.6 935.2L1727.2 935.2" stroke="#3d70ba" stroke-width="3.3" fill="none" stroke-dasharray="13.4 5.4 2.7 5.4" stroke-dashoffset="4.2"/>
<text x="1837.0" y="941.3" font-size="25.00" text-anchor="start" font-weight="normal" fill="#111" >(holes)</text>
<path d="M1663.6 967.4L1725.6 967.4" stroke="#f07a05" stroke-width="3.3" fill="none" stroke-dasharray="12 3.6 2 3.7 2 3.3" stroke-dashoffset="3.6"/>
<text x="1747.5" y="976.1" font-size="25.00" text-anchor="start" font-weight="normal" fill="#111" >T = 0 K (electrons)</text>
<path d="M1663.6 999.6L1725.6 999.6" stroke="#6a3d9a" stroke-width="3.3" fill="none" stroke-dasharray="12 3.6 2 3.7 2 3.3" stroke-dashoffset="3.6"/>
<text x="1837.0" y="1006.2" font-size="25.00" text-anchor="start" font-weight="normal" fill="#111" >(holes)</text>
</svg>
</body></html>
